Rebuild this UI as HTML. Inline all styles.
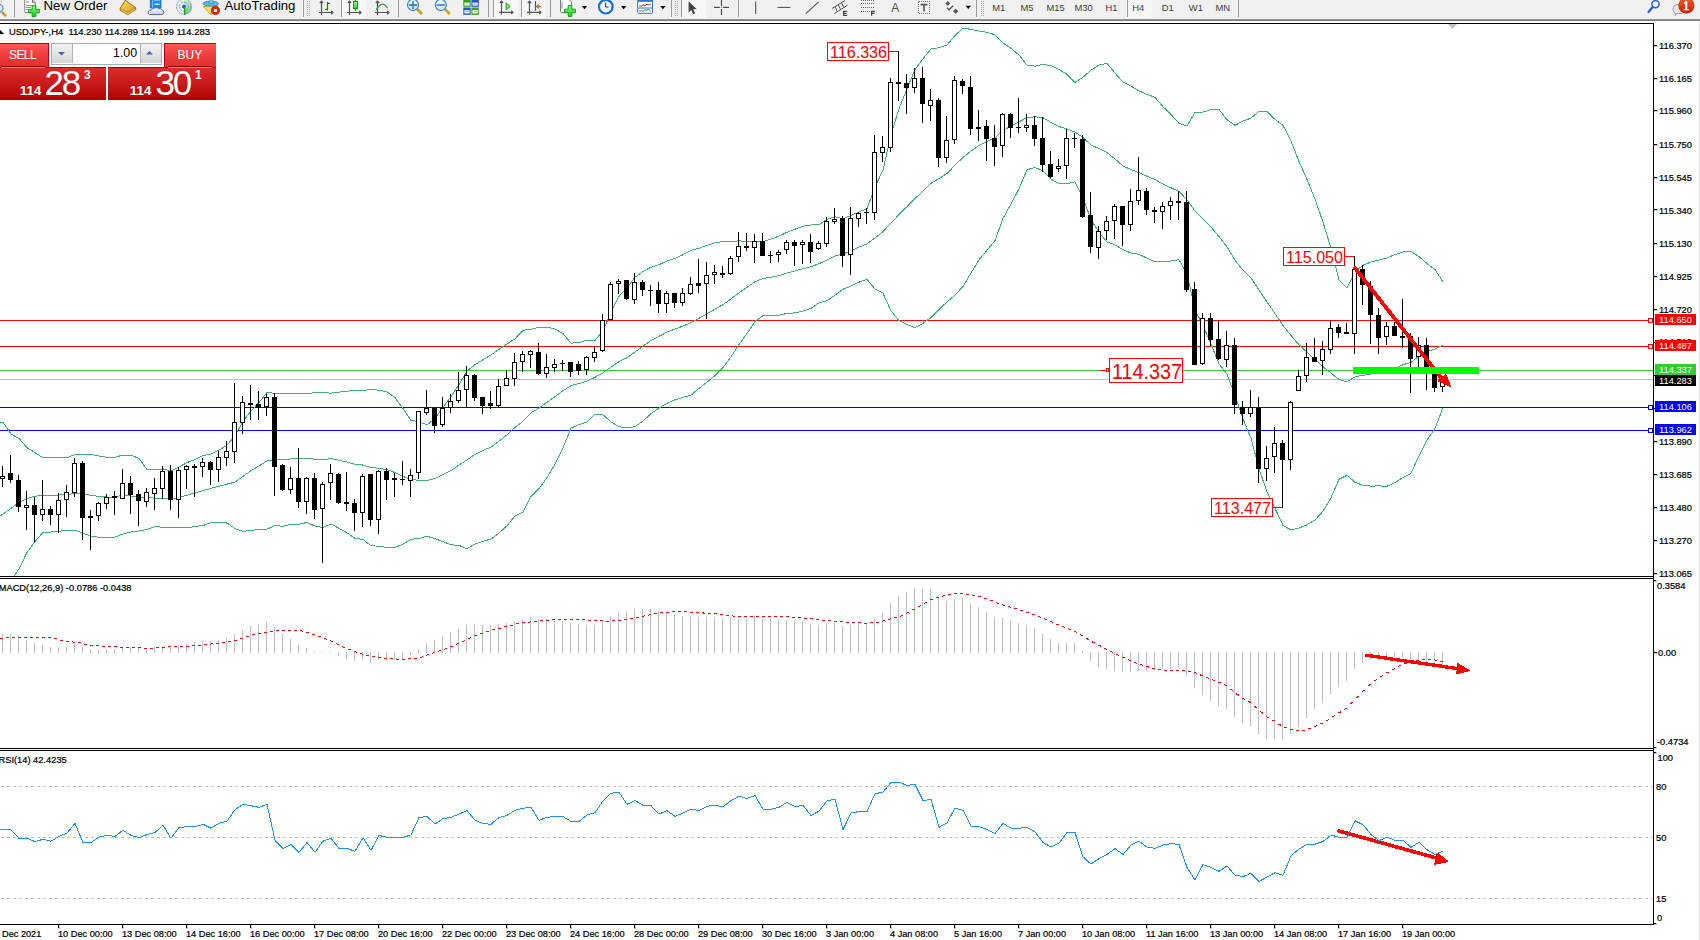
<!DOCTYPE html>
<html><head><meta charset="utf-8"><title>USDJPY H4</title>
<style>
html,body{margin:0;padding:0;width:1700px;height:940px;overflow:hidden;background:#fff;font-family:"Liberation Sans",sans-serif;}
#ch{position:absolute;left:0;top:0;}
#tb{position:absolute;left:0;top:0;width:1700px;height:19px;background:#f0f0f0;overflow:hidden;}
#tbl{position:absolute;left:0;top:19px;width:1700px;height:2px;background:linear-gradient(#a0a0a0,#6e6e6e);}
.tt{position:absolute;top:-2px;font-size:12.6px;color:#000;white-space:nowrap;letter-spacing:0.1px;}
.sep{position:absolute;top:0;width:1px;height:17px;background:#a8a8a8;}
.grip{position:absolute;top:1px;width:3px;height:15px;background:repeating-linear-gradient(#b0b0b0 0 1px,transparent 1px 2px);}
.per{position:absolute;top:2px;font-size:10px;color:#333;}
.sel{position:absolute;top:0;height:18px;background:#fafafa;}
#oc{position:absolute;left:0;top:43px;}
.oc-top{position:absolute;height:24px;background:linear-gradient(#ff5858,#ec3a3a 55%,#e23030);box-sizing:border-box;border-top:1px solid #b80000;}
.oc-bot{position:absolute;top:24px;height:33px;background:linear-gradient(#dc2c2c,#c81a1a 50%,#b00000);box-sizing:border-box;border-top:1px solid #b80000;}
.oc-lbl{position:absolute;top:5px;color:#fff;font-size:12px;letter-spacing:-0.6px;}
.oc-ln{position:absolute;top:23px;height:1px;background:#8c0000;}
.big{position:absolute;color:#fff;}
</style></head>
<body>
<svg id="ch" width="1700" height="940" viewBox="0 0 1700 940">
<defs><clipPath id="cm"><rect x="0" y="24" width="1653" height="552"/></clipPath><clipPath id="cd"><rect x="0" y="579" width="1653" height="169"/></clipPath><clipPath id="cr"><rect x="0" y="751" width="1653" height="173"/></clipPath></defs>
<rect x="0" y="20" width="1700" height="920" fill="#fff"/>
<rect x="1699" y="20" width="1" height="920" fill="#e3e3e3"/>
<g clip-path="url(#cm)">
<g shape-rendering="crispEdges">
<rect x="0" y="320" width="1648" height="1" fill="#ff0000"/>
<rect x="0" y="346" width="1648" height="1" fill="#ff0000"/>
<rect x="0" y="370" width="1653" height="1" fill="#32cd32"/>
<rect x="0" y="379" width="1653" height="1" fill="#c0c0c0"/>
<rect x="0" y="407" width="1648" height="1" fill="#0000ff"/>
<rect x="0" y="430" width="1648" height="1" fill="#0000ff"/>
<rect x="1648.5" y="318.5" width="4" height="4" fill="#fff" stroke="#ff0000" stroke-width="1"/>
<rect x="1648.5" y="344.5" width="4" height="4" fill="#fff" stroke="#ff0000" stroke-width="1"/>
<rect x="1648.5" y="405.5" width="4" height="4" fill="#fff" stroke="#0000ff" stroke-width="1"/>
<rect x="1648.5" y="428.5" width="4" height="4" fill="#fff" stroke="#0000ff" stroke-width="1"/>
</g>
<g fill="none" stroke="#3cb371" stroke-width="1" shape-rendering="crispEdges">
<polyline points="-5.0,423.50 3.0,422.30 11.0,434.00 19.0,438.50 27.0,447.60 35.0,452.60 43.0,457.70 51.0,457.70 59.0,457.70 67.0,457.70 75.0,454.60 83.0,454.40 91.0,454.40 99.0,456.00 107.0,457.30 115.0,457.30 123.0,455.00 131.0,455.00 139.0,458.50 147.0,469.50 155.0,469.97 163.0,468.87 171.0,471.04 179.0,466.98 187.0,462.58 195.0,459.60 203.0,455.58 211.0,454.16 219.0,450.08 227.0,445.24 235.0,435.62 243.0,421.36 251.0,411.08 259.0,402.42 267.0,392.66 275.0,393.25 283.0,393.02 291.0,393.58 299.0,393.50 307.0,393.98 315.0,392.39 323.0,392.32 331.0,393.21 339.0,392.11 347.0,391.36 355.0,390.18 363.0,390.73 371.0,389.43 379.0,390.22 387.0,391.85 395.0,397.63 403.0,408.63 411.0,420.42 419.0,421.54 427.0,425.03 435.0,418.44 443.0,407.27 451.0,396.42 459.0,384.71 467.0,371.02 475.0,364.75 483.0,359.61 491.0,354.95 499.0,349.26 507.0,343.97 515.0,338.79 523.0,330.34 531.0,329.24 539.0,327.34 547.0,327.15 555.0,328.84 563.0,333.64 571.0,343.15 579.0,342.50 587.0,340.15 595.0,340.36 603.0,331.04 611.0,312.21 619.0,296.36 627.0,287.58 635.0,277.26 643.0,271.35 651.0,267.28 659.0,264.67 667.0,260.95 675.0,258.37 683.0,254.77 691.0,250.29 699.0,248.28 707.0,245.23 715.0,242.62 723.0,241.67 731.0,241.15 739.0,240.95 747.0,241.24 755.0,242.08 763.0,241.53 771.0,238.98 779.0,236.07 787.0,232.36 795.0,229.19 803.0,226.13 811.0,225.02 819.0,224.61 827.0,219.48 835.0,216.75 843.0,218.93 851.0,215.40 859.0,212.01 867.0,208.57 875.0,186.96 883.0,170.08 891.0,134.81 899.0,108.81 907.0,88.87 915.0,69.58 923.0,58.72 931.0,48.95 939.0,47.67 947.0,45.06 955.0,35.30 963.0,28.26 971.0,29.34 979.0,31.03 987.0,32.37 995.0,34.77 1003.0,42.93 1011.0,48.26 1019.0,54.96 1027.0,65.27 1035.0,66.13 1043.0,64.39 1051.0,65.57 1059.0,69.40 1067.0,74.36 1075.0,82.30 1083.0,77.20 1091.0,70.25 1099.0,64.99 1107.0,63.32 1115.0,73.07 1123.0,82.16 1131.0,86.16 1139.0,90.89 1147.0,94.36 1155.0,97.31 1163.0,106.74 1171.0,114.56 1179.0,123.39 1187.0,125.80 1195.0,112.53 1203.0,112.10 1211.0,109.74 1219.0,109.41 1227.0,119.68 1235.0,125.32 1243.0,121.06 1251.0,118.06 1259.0,111.23 1267.0,111.69 1275.0,119.26 1283.0,125.40 1291.0,141.18 1299.0,161.56 1307.0,179.45 1315.0,199.14 1323.0,222.15 1331.0,248.34 1339.0,279.87 1347.0,288.21 1355.0,271.43 1363.0,265.25 1371.0,261.98 1379.0,260.05 1387.0,257.94 1395.0,254.54 1403.0,252.04 1411.0,251.33 1419.0,256.53 1427.0,263.57 1435.0,269.51 1443.0,282.01"/>
<polyline points="-5.0,519.50 3.0,514.00 11.0,508.50 19.0,502.50 27.0,498.50 35.0,496.30 43.0,495.00 51.0,495.00 59.0,495.00 67.0,494.50 75.0,493.60 83.0,493.60 91.0,495.50 99.0,496.30 107.0,497.00 115.0,497.00 123.0,495.00 131.0,496.00 139.0,497.00 147.0,497.00 155.0,498.31 163.0,498.06 171.0,499.06 179.0,497.25 187.0,495.30 195.0,492.97 203.0,490.59 211.0,488.34 219.0,486.19 227.0,484.15 235.0,482.11 243.0,476.35 251.0,470.72 259.0,465.94 267.0,460.93 275.0,459.34 283.0,459.69 291.0,458.87 299.0,458.92 307.0,458.20 315.0,459.27 323.0,459.91 331.0,458.58 339.0,460.21 347.0,462.07 355.0,464.31 363.0,465.05 371.0,467.56 379.0,468.23 387.0,469.65 395.0,472.52 403.0,476.39 411.0,479.88 419.0,480.07 427.0,480.62 435.0,478.58 443.0,474.46 451.0,470.61 459.0,465.03 467.0,459.90 475.0,454.32 483.0,450.41 491.0,447.03 499.0,441.14 507.0,434.89 515.0,427.38 523.0,421.26 531.0,412.83 539.0,407.98 547.0,402.35 555.0,396.57 563.0,390.76 571.0,385.62 579.0,383.59 587.0,381.05 595.0,377.31 603.0,372.91 611.0,367.05 619.0,361.56 627.0,357.74 635.0,351.96 643.0,346.20 651.0,340.44 659.0,336.34 667.0,332.09 675.0,329.10 683.0,326.06 691.0,322.72 699.0,318.30 707.0,313.71 715.0,309.10 723.0,304.66 731.0,299.00 739.0,292.76 747.0,287.29 755.0,281.77 763.0,278.57 771.0,277.15 779.0,275.71 787.0,272.87 795.0,271.04 803.0,268.63 811.0,266.72 819.0,263.72 827.0,260.10 835.0,255.94 843.0,254.05 851.0,250.74 859.0,247.10 867.0,243.97 875.0,237.98 883.0,231.62 891.0,222.82 899.0,214.69 907.0,206.73 915.0,198.60 923.0,191.04 931.0,183.28 939.0,178.58 947.0,173.47 955.0,165.21 963.0,157.38 971.0,151.19 979.0,145.46 987.0,141.34 995.0,137.71 1003.0,130.64 1011.0,126.10 1019.0,121.86 1027.0,117.49 1035.0,116.80 1043.0,117.66 1051.0,122.39 1059.0,126.52 1067.0,129.00 1075.0,132.01 1083.0,137.62 1091.0,144.95 1099.0,148.63 1107.0,152.67 1115.0,158.96 1123.0,165.94 1131.0,169.57 1139.0,172.66 1147.0,176.25 1155.0,179.54 1163.0,184.14 1171.0,187.81 1179.0,191.56 1187.0,199.79 1195.0,211.11 1203.0,218.81 1211.0,226.94 1219.0,236.59 1227.0,246.91 1235.0,260.25 1243.0,270.13 1251.0,278.11 1259.0,290.01 1267.0,301.88 1275.0,313.74 1283.0,325.45 1291.0,335.50 1299.0,344.78 1307.0,352.11 1315.0,359.56 1323.0,366.68 1331.0,373.05 1339.0,379.54 1347.0,381.72 1355.0,376.91 1363.0,375.25 1371.0,374.03 1379.0,372.99 1387.0,372.07 1395.0,368.58 1403.0,364.75 1411.0,362.36 1419.0,356.17 1427.0,351.74 1435.0,348.95 1443.0,344.92"/>
<polyline points="-5.0,640.50 3.0,601.00 11.0,581.00 19.0,568.80 27.0,552.60 35.0,541.50 43.0,532.40 51.0,532.00 59.0,531.40 67.0,530.00 75.0,530.40 83.0,533.00 91.0,536.40 99.0,537.20 107.0,537.50 115.0,537.00 123.0,534.00 131.0,532.00 139.0,531.00 147.0,529.50 155.0,526.66 163.0,527.25 171.0,527.09 179.0,527.52 187.0,528.03 195.0,526.34 203.0,525.60 211.0,522.51 219.0,522.31 227.0,523.06 235.0,528.61 243.0,531.34 251.0,530.36 259.0,529.45 267.0,529.19 275.0,525.44 283.0,526.35 291.0,524.16 299.0,524.34 307.0,522.43 315.0,526.15 323.0,527.49 331.0,523.95 339.0,528.32 347.0,532.79 355.0,538.44 363.0,539.37 371.0,545.69 379.0,546.25 387.0,547.46 395.0,547.41 403.0,544.15 411.0,539.33 419.0,538.60 427.0,536.20 435.0,538.73 443.0,541.65 451.0,544.80 459.0,545.36 467.0,548.79 475.0,543.89 483.0,541.20 491.0,539.10 499.0,533.02 507.0,525.80 515.0,515.96 523.0,512.18 531.0,496.42 539.0,488.62 547.0,477.55 555.0,464.31 563.0,447.88 571.0,428.08 579.0,424.69 587.0,421.94 595.0,414.26 603.0,414.78 611.0,421.88 619.0,426.76 627.0,427.90 635.0,426.65 643.0,421.04 651.0,413.61 659.0,408.02 667.0,403.23 675.0,399.82 683.0,397.35 691.0,395.15 699.0,388.32 707.0,382.19 715.0,375.59 723.0,367.66 731.0,356.85 739.0,344.58 747.0,333.35 755.0,321.47 763.0,315.62 771.0,315.33 779.0,315.34 787.0,313.39 795.0,312.89 803.0,311.14 811.0,308.43 819.0,302.83 827.0,300.73 835.0,295.13 843.0,289.18 851.0,286.09 859.0,282.19 867.0,279.38 875.0,289.01 883.0,293.16 891.0,310.84 899.0,320.58 907.0,324.60 915.0,327.62 923.0,323.37 931.0,317.61 939.0,309.48 947.0,301.88 955.0,295.12 963.0,286.49 971.0,273.04 979.0,259.89 987.0,250.31 995.0,240.64 1003.0,218.35 1011.0,203.95 1019.0,188.76 1027.0,169.70 1035.0,167.46 1043.0,170.92 1051.0,179.21 1059.0,183.64 1067.0,183.65 1075.0,181.72 1083.0,198.04 1091.0,219.65 1099.0,232.28 1107.0,242.03 1115.0,244.85 1123.0,249.73 1131.0,252.99 1139.0,254.42 1147.0,258.13 1155.0,261.77 1163.0,261.53 1171.0,261.05 1179.0,259.72 1187.0,273.78 1195.0,309.69 1203.0,325.51 1211.0,344.13 1219.0,363.77 1227.0,374.14 1235.0,395.18 1243.0,419.20 1251.0,438.16 1259.0,468.79 1267.0,492.07 1275.0,508.22 1283.0,525.51 1291.0,529.82 1299.0,528.01 1307.0,524.77 1315.0,519.99 1323.0,511.21 1331.0,497.75 1339.0,479.21 1347.0,475.23 1355.0,482.39 1363.0,485.26 1371.0,486.09 1379.0,485.93 1387.0,486.20 1395.0,482.63 1403.0,477.47 1411.0,473.40 1419.0,455.80 1427.0,439.91 1435.0,428.39 1443.0,407.82"/>
</g>
<g shape-rendering="crispEdges">
<rect x="2" y="466" width="1" height="21"/>
<rect x="0" y="476" width="5" height="3"/>
<rect x="1" y="477" width="3" height="1" fill="#fff"/>
<rect x="10" y="455" width="1" height="28"/>
<rect x="8" y="473" width="5" height="7"/>
<rect x="18" y="475" width="1" height="37"/>
<rect x="16" y="480" width="5" height="27"/>
<rect x="26" y="491" width="1" height="39"/>
<rect x="24" y="505" width="5" height="3"/>
<rect x="25" y="506" width="3" height="1" fill="#fff"/>
<rect x="34" y="497" width="1" height="45"/>
<rect x="32" y="505" width="5" height="10"/>
<rect x="42" y="480" width="1" height="41"/>
<rect x="40" y="509" width="5" height="6"/>
<rect x="41" y="510" width="3" height="4" fill="#fff"/>
<rect x="50" y="506" width="1" height="19"/>
<rect x="48" y="509" width="5" height="6"/>
<rect x="58" y="493" width="1" height="40"/>
<rect x="56" y="500" width="5" height="15"/>
<rect x="57" y="501" width="3" height="13" fill="#fff"/>
<rect x="66" y="485" width="1" height="32"/>
<rect x="64" y="492" width="5" height="8"/>
<rect x="65" y="493" width="3" height="6" fill="#fff"/>
<rect x="74" y="458" width="1" height="39"/>
<rect x="72" y="463" width="5" height="30"/>
<rect x="73" y="464" width="3" height="28" fill="#fff"/>
<rect x="82" y="461" width="1" height="79"/>
<rect x="80" y="463" width="5" height="55"/>
<rect x="90" y="510" width="1" height="40"/>
<rect x="88" y="516" width="5" height="2"/>
<rect x="98" y="502" width="1" height="19"/>
<rect x="96" y="503" width="5" height="13"/>
<rect x="97" y="504" width="3" height="11" fill="#fff"/>
<rect x="106" y="494" width="1" height="15"/>
<rect x="104" y="497" width="5" height="7"/>
<rect x="105" y="498" width="3" height="5" fill="#fff"/>
<rect x="114" y="491" width="1" height="24"/>
<rect x="112" y="496" width="5" height="2"/>
<rect x="122" y="469" width="1" height="30"/>
<rect x="120" y="483" width="5" height="16"/>
<rect x="121" y="484" width="3" height="14" fill="#fff"/>
<rect x="130" y="476" width="1" height="38"/>
<rect x="128" y="483" width="5" height="12"/>
<rect x="138" y="490" width="1" height="36"/>
<rect x="136" y="494" width="5" height="7"/>
<rect x="146" y="488" width="1" height="19"/>
<rect x="144" y="492" width="5" height="10"/>
<rect x="145" y="493" width="3" height="8" fill="#fff"/>
<rect x="154" y="478" width="1" height="32"/>
<rect x="152" y="488" width="5" height="6"/>
<rect x="153" y="489" width="3" height="4" fill="#fff"/>
<rect x="162" y="466" width="1" height="33"/>
<rect x="160" y="471" width="5" height="18"/>
<rect x="161" y="472" width="3" height="16" fill="#fff"/>
<rect x="170" y="465" width="1" height="45"/>
<rect x="168" y="471" width="5" height="29"/>
<rect x="178" y="467" width="1" height="51"/>
<rect x="176" y="470" width="5" height="30"/>
<rect x="177" y="471" width="3" height="28" fill="#fff"/>
<rect x="186" y="465" width="1" height="24"/>
<rect x="184" y="466" width="5" height="4"/>
<rect x="185" y="467" width="3" height="2" fill="#fff"/>
<rect x="194" y="464" width="1" height="33"/>
<rect x="192" y="466" width="5" height="2"/>
<rect x="202" y="458" width="1" height="19"/>
<rect x="200" y="462" width="5" height="5"/>
<rect x="201" y="463" width="3" height="3" fill="#fff"/>
<rect x="210" y="461" width="1" height="24"/>
<rect x="208" y="462" width="5" height="8"/>
<rect x="218" y="451" width="1" height="31"/>
<rect x="216" y="457" width="5" height="13"/>
<rect x="217" y="458" width="3" height="11" fill="#fff"/>
<rect x="226" y="441" width="1" height="25"/>
<rect x="224" y="451" width="5" height="7"/>
<rect x="225" y="452" width="3" height="5" fill="#fff"/>
<rect x="234" y="383" width="1" height="80"/>
<rect x="232" y="422" width="5" height="30"/>
<rect x="233" y="423" width="3" height="28" fill="#fff"/>
<rect x="242" y="396" width="1" height="38"/>
<rect x="240" y="402" width="5" height="21"/>
<rect x="241" y="403" width="3" height="19" fill="#fff"/>
<rect x="250" y="385" width="1" height="35"/>
<rect x="248" y="403" width="5" height="2"/>
<rect x="258" y="391" width="1" height="29"/>
<rect x="256" y="404" width="5" height="4"/>
<rect x="266" y="394" width="1" height="22"/>
<rect x="264" y="397" width="5" height="10"/>
<rect x="265" y="398" width="3" height="8" fill="#fff"/>
<rect x="274" y="393" width="1" height="103"/>
<rect x="272" y="397" width="5" height="70"/>
<rect x="282" y="464" width="1" height="27"/>
<rect x="280" y="465" width="5" height="25"/>
<rect x="290" y="467" width="1" height="27"/>
<rect x="288" y="478" width="5" height="12"/>
<rect x="289" y="479" width="3" height="10" fill="#fff"/>
<rect x="298" y="448" width="1" height="60"/>
<rect x="296" y="478" width="5" height="24"/>
<rect x="306" y="477" width="1" height="37"/>
<rect x="304" y="478" width="5" height="24"/>
<rect x="305" y="479" width="3" height="22" fill="#fff"/>
<rect x="314" y="473" width="1" height="46"/>
<rect x="312" y="478" width="5" height="32"/>
<rect x="322" y="482" width="1" height="81"/>
<rect x="320" y="484" width="5" height="25"/>
<rect x="321" y="485" width="3" height="23" fill="#fff"/>
<rect x="330" y="464" width="1" height="36"/>
<rect x="328" y="473" width="5" height="10"/>
<rect x="329" y="474" width="3" height="8" fill="#fff"/>
<rect x="338" y="473" width="1" height="31"/>
<rect x="336" y="474" width="5" height="29"/>
<rect x="346" y="472" width="1" height="39"/>
<rect x="344" y="502" width="5" height="2"/>
<rect x="354" y="499" width="1" height="32"/>
<rect x="352" y="503" width="5" height="10"/>
<rect x="362" y="474" width="1" height="53"/>
<rect x="360" y="476" width="5" height="37"/>
<rect x="361" y="477" width="3" height="35" fill="#fff"/>
<rect x="370" y="474" width="1" height="52"/>
<rect x="368" y="474" width="5" height="46"/>
<rect x="378" y="470" width="1" height="64"/>
<rect x="376" y="471" width="5" height="49"/>
<rect x="377" y="472" width="3" height="47" fill="#fff"/>
<rect x="386" y="468" width="1" height="32"/>
<rect x="384" y="471" width="5" height="9"/>
<rect x="394" y="473" width="1" height="24"/>
<rect x="392" y="478" width="5" height="2"/>
<rect x="402" y="461" width="1" height="24"/>
<rect x="400" y="479" width="5" height="1"/>
<rect x="410" y="469" width="1" height="28"/>
<rect x="408" y="475" width="5" height="6"/>
<rect x="409" y="476" width="3" height="4" fill="#fff"/>
<rect x="418" y="411" width="1" height="68"/>
<rect x="416" y="411" width="5" height="62"/>
<rect x="417" y="412" width="3" height="60" fill="#fff"/>
<rect x="426" y="390" width="1" height="25"/>
<rect x="424" y="408" width="5" height="5"/>
<rect x="425" y="409" width="3" height="3" fill="#fff"/>
<rect x="434" y="408" width="1" height="25"/>
<rect x="432" y="408" width="5" height="18"/>
<rect x="442" y="397" width="1" height="30"/>
<rect x="440" y="408" width="5" height="17"/>
<rect x="441" y="409" width="3" height="15" fill="#fff"/>
<rect x="450" y="394" width="1" height="19"/>
<rect x="448" y="401" width="5" height="7"/>
<rect x="449" y="402" width="3" height="5" fill="#fff"/>
<rect x="458" y="372" width="1" height="31"/>
<rect x="456" y="390" width="5" height="11"/>
<rect x="457" y="391" width="3" height="9" fill="#fff"/>
<rect x="466" y="366" width="1" height="41"/>
<rect x="464" y="375" width="5" height="15"/>
<rect x="465" y="376" width="3" height="13" fill="#fff"/>
<rect x="474" y="374" width="1" height="27"/>
<rect x="472" y="375" width="5" height="23"/>
<rect x="482" y="397" width="1" height="17"/>
<rect x="480" y="397" width="5" height="9"/>
<rect x="490" y="391" width="1" height="18"/>
<rect x="488" y="403" width="5" height="3"/>
<rect x="498" y="379" width="1" height="29"/>
<rect x="496" y="386" width="5" height="20"/>
<rect x="497" y="387" width="3" height="18" fill="#fff"/>
<rect x="506" y="371" width="1" height="15"/>
<rect x="504" y="378" width="5" height="8"/>
<rect x="505" y="379" width="3" height="6" fill="#fff"/>
<rect x="514" y="353" width="1" height="33"/>
<rect x="512" y="362" width="5" height="17"/>
<rect x="513" y="363" width="3" height="15" fill="#fff"/>
<rect x="522" y="351" width="1" height="21"/>
<rect x="520" y="354" width="5" height="8"/>
<rect x="521" y="355" width="3" height="6" fill="#fff"/>
<rect x="530" y="350" width="1" height="18"/>
<rect x="528" y="351" width="5" height="4"/>
<rect x="529" y="352" width="3" height="2" fill="#fff"/>
<rect x="538" y="343" width="1" height="32"/>
<rect x="536" y="352" width="5" height="22"/>
<rect x="546" y="354" width="1" height="24"/>
<rect x="544" y="367" width="5" height="7"/>
<rect x="545" y="368" width="3" height="5" fill="#fff"/>
<rect x="554" y="359" width="1" height="13"/>
<rect x="552" y="364" width="5" height="4"/>
<rect x="553" y="365" width="3" height="2" fill="#fff"/>
<rect x="562" y="360" width="1" height="11"/>
<rect x="560" y="363" width="5" height="1"/>
<rect x="570" y="362" width="1" height="15"/>
<rect x="568" y="362" width="5" height="10"/>
<rect x="578" y="361" width="1" height="14"/>
<rect x="576" y="364" width="5" height="7"/>
<rect x="586" y="356" width="1" height="19"/>
<rect x="584" y="357" width="5" height="13"/>
<rect x="585" y="358" width="3" height="11" fill="#fff"/>
<rect x="594" y="347" width="1" height="15"/>
<rect x="592" y="352" width="5" height="6"/>
<rect x="593" y="353" width="3" height="4" fill="#fff"/>
<rect x="602" y="314" width="1" height="38"/>
<rect x="600" y="320" width="5" height="31"/>
<rect x="601" y="321" width="3" height="29" fill="#fff"/>
<rect x="610" y="282" width="1" height="38"/>
<rect x="608" y="284" width="5" height="36"/>
<rect x="609" y="285" width="3" height="34" fill="#fff"/>
<rect x="618" y="279" width="1" height="15"/>
<rect x="616" y="281" width="5" height="3"/>
<rect x="617" y="282" width="3" height="1" fill="#fff"/>
<rect x="626" y="280" width="1" height="20"/>
<rect x="624" y="280" width="5" height="19"/>
<rect x="634" y="273" width="1" height="31"/>
<rect x="632" y="282" width="5" height="18"/>
<rect x="633" y="283" width="3" height="16" fill="#fff"/>
<rect x="642" y="280" width="1" height="16"/>
<rect x="640" y="282" width="5" height="8"/>
<rect x="650" y="285" width="1" height="21"/>
<rect x="648" y="290" width="5" height="1"/>
<rect x="658" y="282" width="1" height="31"/>
<rect x="656" y="290" width="5" height="14"/>
<rect x="666" y="291" width="1" height="22"/>
<rect x="664" y="293" width="5" height="11"/>
<rect x="665" y="294" width="3" height="9" fill="#fff"/>
<rect x="674" y="293" width="1" height="15"/>
<rect x="672" y="293" width="5" height="10"/>
<rect x="682" y="288" width="1" height="18"/>
<rect x="680" y="293" width="5" height="10"/>
<rect x="681" y="294" width="3" height="8" fill="#fff"/>
<rect x="690" y="277" width="1" height="18"/>
<rect x="688" y="284" width="5" height="10"/>
<rect x="689" y="285" width="3" height="8" fill="#fff"/>
<rect x="698" y="259" width="1" height="34"/>
<rect x="696" y="283" width="5" height="3"/>
<rect x="706" y="262" width="1" height="57"/>
<rect x="704" y="275" width="5" height="9"/>
<rect x="705" y="276" width="3" height="7" fill="#fff"/>
<rect x="714" y="265" width="1" height="19"/>
<rect x="712" y="272" width="5" height="3"/>
<rect x="713" y="273" width="3" height="1" fill="#fff"/>
<rect x="722" y="266" width="1" height="12"/>
<rect x="720" y="273" width="5" height="2"/>
<rect x="730" y="256" width="1" height="19"/>
<rect x="728" y="258" width="5" height="16"/>
<rect x="729" y="259" width="3" height="14" fill="#fff"/>
<rect x="738" y="232" width="1" height="30"/>
<rect x="736" y="246" width="5" height="11"/>
<rect x="737" y="247" width="3" height="9" fill="#fff"/>
<rect x="746" y="233" width="1" height="18"/>
<rect x="744" y="246" width="5" height="2"/>
<rect x="754" y="234" width="1" height="29"/>
<rect x="752" y="241" width="5" height="7"/>
<rect x="753" y="242" width="3" height="5" fill="#fff"/>
<rect x="762" y="233" width="1" height="23"/>
<rect x="760" y="241" width="5" height="15"/>
<rect x="770" y="251" width="1" height="12"/>
<rect x="768" y="255" width="5" height="1"/>
<rect x="778" y="250" width="1" height="12"/>
<rect x="776" y="252" width="5" height="3"/>
<rect x="777" y="253" width="3" height="1" fill="#fff"/>
<rect x="786" y="240" width="1" height="14"/>
<rect x="784" y="242" width="5" height="8"/>
<rect x="785" y="243" width="3" height="6" fill="#fff"/>
<rect x="794" y="240" width="1" height="26"/>
<rect x="792" y="242" width="5" height="4"/>
<rect x="802" y="240" width="1" height="24"/>
<rect x="800" y="242" width="5" height="3"/>
<rect x="801" y="243" width="3" height="1" fill="#fff"/>
<rect x="810" y="234" width="1" height="29"/>
<rect x="808" y="242" width="5" height="10"/>
<rect x="818" y="241" width="1" height="9"/>
<rect x="816" y="243" width="5" height="6"/>
<rect x="817" y="244" width="3" height="4" fill="#fff"/>
<rect x="826" y="217" width="1" height="30"/>
<rect x="824" y="221" width="5" height="23"/>
<rect x="825" y="222" width="3" height="21" fill="#fff"/>
<rect x="834" y="208" width="1" height="16"/>
<rect x="832" y="219" width="5" height="3"/>
<rect x="833" y="220" width="3" height="1" fill="#fff"/>
<rect x="842" y="216" width="1" height="51"/>
<rect x="840" y="218" width="5" height="38"/>
<rect x="850" y="207" width="1" height="68"/>
<rect x="848" y="218" width="5" height="37"/>
<rect x="849" y="219" width="3" height="35" fill="#fff"/>
<rect x="858" y="212" width="1" height="15"/>
<rect x="856" y="213" width="5" height="6"/>
<rect x="857" y="214" width="3" height="4" fill="#fff"/>
<rect x="866" y="208" width="1" height="16"/>
<rect x="864" y="212" width="5" height="1"/>
<rect x="874" y="135" width="1" height="85"/>
<rect x="872" y="152" width="5" height="61"/>
<rect x="873" y="153" width="3" height="59" fill="#fff"/>
<rect x="882" y="136" width="1" height="26"/>
<rect x="880" y="147" width="5" height="6"/>
<rect x="881" y="148" width="3" height="4" fill="#fff"/>
<rect x="890" y="78" width="1" height="74"/>
<rect x="888" y="82" width="5" height="66"/>
<rect x="889" y="83" width="3" height="64" fill="#fff"/>
<rect x="898" y="51" width="1" height="50"/>
<rect x="896" y="82" width="5" height="2"/>
<rect x="906" y="74" width="1" height="40"/>
<rect x="904" y="83" width="5" height="5"/>
<rect x="914" y="68" width="1" height="25"/>
<rect x="912" y="78" width="5" height="10"/>
<rect x="913" y="79" width="3" height="8" fill="#fff"/>
<rect x="922" y="67" width="1" height="56"/>
<rect x="920" y="78" width="5" height="26"/>
<rect x="930" y="89" width="1" height="32"/>
<rect x="928" y="100" width="5" height="6"/>
<rect x="929" y="101" width="3" height="4" fill="#fff"/>
<rect x="938" y="98" width="1" height="69"/>
<rect x="936" y="100" width="5" height="58"/>
<rect x="946" y="116" width="1" height="47"/>
<rect x="944" y="140" width="5" height="18"/>
<rect x="945" y="141" width="3" height="16" fill="#fff"/>
<rect x="954" y="76" width="1" height="68"/>
<rect x="952" y="80" width="5" height="60"/>
<rect x="953" y="81" width="3" height="58" fill="#fff"/>
<rect x="962" y="79" width="1" height="15"/>
<rect x="960" y="81" width="5" height="5"/>
<rect x="970" y="76" width="1" height="59"/>
<rect x="968" y="87" width="5" height="42"/>
<rect x="978" y="110" width="1" height="31"/>
<rect x="976" y="127" width="5" height="2"/>
<rect x="986" y="120" width="1" height="41"/>
<rect x="984" y="126" width="5" height="13"/>
<rect x="994" y="125" width="1" height="41"/>
<rect x="992" y="138" width="5" height="9"/>
<rect x="1002" y="113" width="1" height="44"/>
<rect x="1000" y="114" width="5" height="32"/>
<rect x="1001" y="115" width="3" height="30" fill="#fff"/>
<rect x="1010" y="113" width="1" height="25"/>
<rect x="1008" y="114" width="5" height="14"/>
<rect x="1018" y="98" width="1" height="35"/>
<rect x="1016" y="127" width="5" height="1"/>
<rect x="1026" y="114" width="1" height="18"/>
<rect x="1024" y="125" width="5" height="3"/>
<rect x="1025" y="126" width="3" height="1" fill="#fff"/>
<rect x="1034" y="116" width="1" height="30"/>
<rect x="1032" y="125" width="5" height="14"/>
<rect x="1042" y="117" width="1" height="55"/>
<rect x="1040" y="138" width="5" height="27"/>
<rect x="1050" y="151" width="1" height="27"/>
<rect x="1048" y="164" width="5" height="13"/>
<rect x="1058" y="159" width="1" height="13"/>
<rect x="1056" y="166" width="5" height="3"/>
<rect x="1057" y="167" width="3" height="1" fill="#fff"/>
<rect x="1066" y="129" width="1" height="50"/>
<rect x="1064" y="138" width="5" height="28"/>
<rect x="1065" y="139" width="3" height="26" fill="#fff"/>
<rect x="1074" y="133" width="1" height="15"/>
<rect x="1072" y="138" width="5" height="1"/>
<rect x="1082" y="135" width="1" height="83"/>
<rect x="1080" y="139" width="5" height="78"/>
<rect x="1090" y="192" width="1" height="61"/>
<rect x="1088" y="215" width="5" height="32"/>
<rect x="1098" y="226" width="1" height="33"/>
<rect x="1096" y="231" width="5" height="17"/>
<rect x="1097" y="232" width="3" height="15" fill="#fff"/>
<rect x="1106" y="216" width="1" height="24"/>
<rect x="1104" y="221" width="5" height="10"/>
<rect x="1105" y="222" width="3" height="8" fill="#fff"/>
<rect x="1114" y="204" width="1" height="35"/>
<rect x="1112" y="206" width="5" height="15"/>
<rect x="1113" y="207" width="3" height="13" fill="#fff"/>
<rect x="1122" y="206" width="1" height="40"/>
<rect x="1120" y="206" width="5" height="19"/>
<rect x="1130" y="189" width="1" height="42"/>
<rect x="1128" y="201" width="5" height="24"/>
<rect x="1129" y="202" width="3" height="22" fill="#fff"/>
<rect x="1138" y="157" width="1" height="48"/>
<rect x="1136" y="190" width="5" height="11"/>
<rect x="1137" y="191" width="3" height="9" fill="#fff"/>
<rect x="1146" y="188" width="1" height="27"/>
<rect x="1144" y="191" width="5" height="19"/>
<rect x="1154" y="207" width="1" height="16"/>
<rect x="1152" y="210" width="5" height="2"/>
<rect x="1162" y="202" width="1" height="27"/>
<rect x="1160" y="206" width="5" height="6"/>
<rect x="1161" y="207" width="3" height="4" fill="#fff"/>
<rect x="1170" y="197" width="1" height="23"/>
<rect x="1168" y="201" width="5" height="5"/>
<rect x="1169" y="202" width="3" height="3" fill="#fff"/>
<rect x="1178" y="191" width="1" height="29"/>
<rect x="1176" y="201" width="5" height="2"/>
<rect x="1186" y="191" width="1" height="101"/>
<rect x="1184" y="202" width="5" height="88"/>
<rect x="1194" y="282" width="1" height="83"/>
<rect x="1192" y="289" width="5" height="76"/>
<rect x="1202" y="313" width="1" height="52"/>
<rect x="1200" y="318" width="5" height="46"/>
<rect x="1201" y="319" width="3" height="44" fill="#fff"/>
<rect x="1210" y="313" width="1" height="33"/>
<rect x="1208" y="318" width="5" height="22"/>
<rect x="1218" y="321" width="1" height="39"/>
<rect x="1216" y="339" width="5" height="20"/>
<rect x="1226" y="331" width="1" height="36"/>
<rect x="1224" y="345" width="5" height="15"/>
<rect x="1225" y="346" width="3" height="13" fill="#fff"/>
<rect x="1234" y="338" width="1" height="76"/>
<rect x="1232" y="345" width="5" height="60"/>
<rect x="1242" y="401" width="1" height="24"/>
<rect x="1240" y="407" width="5" height="7"/>
<rect x="1250" y="390" width="1" height="27"/>
<rect x="1248" y="407" width="5" height="7"/>
<rect x="1249" y="408" width="3" height="5" fill="#fff"/>
<rect x="1258" y="397" width="1" height="86"/>
<rect x="1256" y="408" width="5" height="61"/>
<rect x="1266" y="446" width="1" height="35"/>
<rect x="1264" y="458" width="5" height="11"/>
<rect x="1265" y="459" width="3" height="9" fill="#fff"/>
<rect x="1274" y="427" width="1" height="46"/>
<rect x="1272" y="443" width="5" height="14"/>
<rect x="1273" y="444" width="3" height="12" fill="#fff"/>
<rect x="1282" y="440" width="1" height="68"/>
<rect x="1280" y="443" width="5" height="17"/>
<rect x="1290" y="401" width="1" height="69"/>
<rect x="1288" y="402" width="5" height="58"/>
<rect x="1289" y="403" width="3" height="56" fill="#fff"/>
<rect x="1298" y="370" width="1" height="21"/>
<rect x="1296" y="376" width="5" height="15"/>
<rect x="1297" y="377" width="3" height="13" fill="#fff"/>
<rect x="1306" y="343" width="1" height="39"/>
<rect x="1304" y="357" width="5" height="19"/>
<rect x="1305" y="358" width="3" height="17" fill="#fff"/>
<rect x="1314" y="338" width="1" height="24"/>
<rect x="1312" y="357" width="5" height="5"/>
<rect x="1322" y="341" width="1" height="34"/>
<rect x="1320" y="349" width="5" height="12"/>
<rect x="1321" y="350" width="3" height="10" fill="#fff"/>
<rect x="1330" y="321" width="1" height="33"/>
<rect x="1328" y="328" width="5" height="22"/>
<rect x="1329" y="329" width="3" height="20" fill="#fff"/>
<rect x="1338" y="324" width="1" height="14"/>
<rect x="1336" y="327" width="5" height="6"/>
<rect x="1346" y="323" width="1" height="11"/>
<rect x="1344" y="332" width="5" height="2"/>
<rect x="1354" y="256" width="1" height="98"/>
<rect x="1352" y="269" width="5" height="65"/>
<rect x="1353" y="270" width="3" height="63" fill="#fff"/>
<rect x="1362" y="265" width="1" height="40"/>
<rect x="1360" y="269" width="5" height="16"/>
<rect x="1370" y="281" width="1" height="63"/>
<rect x="1368" y="286" width="5" height="29"/>
<rect x="1378" y="308" width="1" height="46"/>
<rect x="1376" y="315" width="5" height="23"/>
<rect x="1386" y="322" width="1" height="23"/>
<rect x="1384" y="326" width="5" height="11"/>
<rect x="1385" y="327" width="3" height="9" fill="#fff"/>
<rect x="1394" y="322" width="1" height="14"/>
<rect x="1392" y="326" width="5" height="10"/>
<rect x="1402" y="299" width="1" height="49"/>
<rect x="1400" y="336" width="5" height="2"/>
<rect x="1410" y="333" width="1" height="60"/>
<rect x="1408" y="336" width="5" height="23"/>
<rect x="1418" y="337" width="1" height="30"/>
<rect x="1416" y="345" width="5" height="12"/>
<rect x="1417" y="346" width="3" height="10" fill="#fff"/>
<rect x="1426" y="338" width="1" height="52"/>
<rect x="1424" y="345" width="5" height="25"/>
<rect x="1434" y="368" width="1" height="24"/>
<rect x="1432" y="370" width="5" height="18"/>
<rect x="1442" y="378" width="1" height="14"/>
<rect x="1440" y="379" width="5" height="8"/>
<rect x="1441" y="380" width="3" height="6" fill="#fff"/>
</g>
<rect x="827.5" y="42.5" width="61" height="18" fill="#fff" stroke="#ff0000" stroke-width="1" shape-rendering="crispEdges"/>
<rect x="889" y="51" width="9" height="1" fill="#ff0000" shape-rendering="crispEdges"/>
<text x="830.0" y="57.5" font-size="16.5" fill="#ff0000" textLength="57" lengthAdjust="spacingAndGlyphs" style='font-family:"Liberation Sans",sans-serif;'>116.336</text>
<rect x="1283.5" y="247.5" width="61" height="18" fill="#fff" stroke="#ff0000" stroke-width="1" shape-rendering="crispEdges"/>
<rect x="1345" y="256" width="9" height="1" fill="#ff0000" shape-rendering="crispEdges"/>
<text x="1286.0" y="262.5" font-size="16.5" fill="#ff0000" textLength="57" lengthAdjust="spacingAndGlyphs" style='font-family:"Liberation Sans",sans-serif;'>115.050</text>
<rect x="1211.5" y="498.5" width="61" height="18" fill="#fff" stroke="#ff0000" stroke-width="1" shape-rendering="crispEdges"/>
<rect x="1273" y="507" width="9" height="1" fill="#ff0000" shape-rendering="crispEdges"/>
<text x="1214.0" y="513.5" font-size="16.5" fill="#ff0000" textLength="57" lengthAdjust="spacingAndGlyphs" style='font-family:"Liberation Sans",sans-serif;'>113.477</text>
<rect x="1099" y="370" width="8" height="1" fill="#ff0000"/>
<rect x="1106.5" y="368.5" width="2" height="3" fill="#fff" stroke="#ff0000" stroke-width="1" shape-rendering="crispEdges"/>
<rect x="1109.5" y="358.5" width="73" height="24" fill="#fff" stroke="#ff0000" stroke-width="1.2" shape-rendering="crispEdges"/>
<text x="1112" y="379" font-size="22" fill="#ff0000" textLength="70" lengthAdjust="spacingAndGlyphs" style='font-family:"Liberation Sans",sans-serif;'>114.337</text>
<g shape-rendering="crispEdges"><line x1="1355" y1="268" x2="1444" y2="381.5" stroke="#ff0000" stroke-width="3.8" stroke-linecap="round"/>
<polygon points="1438.3,380.6 1445.8,375 1450,386" fill="#ff0000" stroke="#ff0000" stroke-width="1.6" stroke-linejoin="round"/></g>
<rect x="1353" y="367" width="126" height="7" fill="#00ff00"/>
</g>
<g clip-path="url(#cd)" shape-rendering="crispEdges">
<rect x="2" y="634" width="1" height="19" fill="#c0c0c0"/>
<rect x="10" y="634" width="1" height="19" fill="#c0c0c0"/>
<rect x="18" y="636" width="1" height="17" fill="#c0c0c0"/>
<rect x="26" y="640" width="1" height="13" fill="#c0c0c0"/>
<rect x="34" y="643" width="1" height="10" fill="#c0c0c0"/>
<rect x="42" y="645" width="1" height="8" fill="#c0c0c0"/>
<rect x="50" y="647" width="1" height="6" fill="#c0c0c0"/>
<rect x="58" y="648" width="1" height="5" fill="#c0c0c0"/>
<rect x="66" y="647" width="1" height="6" fill="#c0c0c0"/>
<rect x="74" y="644" width="1" height="9" fill="#c0c0c0"/>
<rect x="82" y="647" width="1" height="6" fill="#c0c0c0"/>
<rect x="90" y="649" width="1" height="4" fill="#c0c0c0"/>
<rect x="98" y="650" width="1" height="3" fill="#c0c0c0"/>
<rect x="106" y="649" width="1" height="4" fill="#c0c0c0"/>
<rect x="114" y="649" width="1" height="4" fill="#c0c0c0"/>
<rect x="122" y="647" width="1" height="6" fill="#c0c0c0"/>
<rect x="130" y="647" width="1" height="6" fill="#c0c0c0"/>
<rect x="138" y="648" width="1" height="5" fill="#c0c0c0"/>
<rect x="146" y="648" width="1" height="5" fill="#c0c0c0"/>
<rect x="154" y="647" width="1" height="6" fill="#c0c0c0"/>
<rect x="162" y="646" width="1" height="7" fill="#c0c0c0"/>
<rect x="170" y="646" width="1" height="7" fill="#c0c0c0"/>
<rect x="178" y="645" width="1" height="8" fill="#c0c0c0"/>
<rect x="186" y="644" width="1" height="9" fill="#c0c0c0"/>
<rect x="194" y="642" width="1" height="11" fill="#c0c0c0"/>
<rect x="202" y="641" width="1" height="12" fill="#c0c0c0"/>
<rect x="210" y="641" width="1" height="12" fill="#c0c0c0"/>
<rect x="218" y="640" width="1" height="13" fill="#c0c0c0"/>
<rect x="226" y="638" width="1" height="15" fill="#c0c0c0"/>
<rect x="234" y="634" width="1" height="19" fill="#c0c0c0"/>
<rect x="242" y="630" width="1" height="23" fill="#c0c0c0"/>
<rect x="250" y="626" width="1" height="27" fill="#c0c0c0"/>
<rect x="258" y="624" width="1" height="29" fill="#c0c0c0"/>
<rect x="266" y="622" width="1" height="31" fill="#c0c0c0"/>
<rect x="274" y="627" width="1" height="26" fill="#c0c0c0"/>
<rect x="282" y="634" width="1" height="19" fill="#c0c0c0"/>
<rect x="290" y="639" width="1" height="14" fill="#c0c0c0"/>
<rect x="298" y="645" width="1" height="8" fill="#c0c0c0"/>
<rect x="306" y="648" width="1" height="5" fill="#c0c0c0"/>
<rect x="314" y="652" width="1" height="1" fill="#c0c0c0"/>
<rect x="322" y="652" width="1" height="1" fill="#c0c0c0"/>
<rect x="330" y="652" width="1" height="1" fill="#c0c0c0"/>
<rect x="338" y="652" width="1" height="4" fill="#c0c0c0"/>
<rect x="346" y="652" width="1" height="7" fill="#c0c0c0"/>
<rect x="354" y="652" width="1" height="9" fill="#c0c0c0"/>
<rect x="362" y="652" width="1" height="8" fill="#c0c0c0"/>
<rect x="370" y="652" width="1" height="11" fill="#c0c0c0"/>
<rect x="378" y="652" width="1" height="8" fill="#c0c0c0"/>
<rect x="386" y="652" width="1" height="8" fill="#c0c0c0"/>
<rect x="394" y="652" width="1" height="7" fill="#c0c0c0"/>
<rect x="402" y="652" width="1" height="7" fill="#c0c0c0"/>
<rect x="410" y="652" width="1" height="3" fill="#c0c0c0"/>
<rect x="418" y="649" width="1" height="4" fill="#c0c0c0"/>
<rect x="426" y="643" width="1" height="10" fill="#c0c0c0"/>
<rect x="434" y="640" width="1" height="13" fill="#c0c0c0"/>
<rect x="442" y="636" width="1" height="17" fill="#c0c0c0"/>
<rect x="450" y="632" width="1" height="21" fill="#c0c0c0"/>
<rect x="458" y="629" width="1" height="24" fill="#c0c0c0"/>
<rect x="466" y="625" width="1" height="28" fill="#c0c0c0"/>
<rect x="474" y="624" width="1" height="29" fill="#c0c0c0"/>
<rect x="482" y="625" width="1" height="28" fill="#c0c0c0"/>
<rect x="490" y="625" width="1" height="28" fill="#c0c0c0"/>
<rect x="498" y="624" width="1" height="29" fill="#c0c0c0"/>
<rect x="506" y="623" width="1" height="30" fill="#c0c0c0"/>
<rect x="514" y="621" width="1" height="32" fill="#c0c0c0"/>
<rect x="522" y="619" width="1" height="34" fill="#c0c0c0"/>
<rect x="530" y="617" width="1" height="36" fill="#c0c0c0"/>
<rect x="538" y="619" width="1" height="34" fill="#c0c0c0"/>
<rect x="546" y="619" width="1" height="34" fill="#c0c0c0"/>
<rect x="554" y="621" width="1" height="32" fill="#c0c0c0"/>
<rect x="562" y="621" width="1" height="32" fill="#c0c0c0"/>
<rect x="570" y="623" width="1" height="30" fill="#c0c0c0"/>
<rect x="578" y="624" width="1" height="29" fill="#c0c0c0"/>
<rect x="586" y="625" width="1" height="28" fill="#c0c0c0"/>
<rect x="594" y="625" width="1" height="28" fill="#c0c0c0"/>
<rect x="602" y="621" width="1" height="32" fill="#c0c0c0"/>
<rect x="610" y="616" width="1" height="37" fill="#c0c0c0"/>
<rect x="618" y="612" width="1" height="41" fill="#c0c0c0"/>
<rect x="626" y="611" width="1" height="42" fill="#c0c0c0"/>
<rect x="634" y="609" width="1" height="44" fill="#c0c0c0"/>
<rect x="642" y="609" width="1" height="44" fill="#c0c0c0"/>
<rect x="650" y="609" width="1" height="44" fill="#c0c0c0"/>
<rect x="658" y="611" width="1" height="42" fill="#c0c0c0"/>
<rect x="666" y="612" width="1" height="41" fill="#c0c0c0"/>
<rect x="674" y="614" width="1" height="39" fill="#c0c0c0"/>
<rect x="682" y="616" width="1" height="37" fill="#c0c0c0"/>
<rect x="690" y="616" width="1" height="37" fill="#c0c0c0"/>
<rect x="698" y="617" width="1" height="36" fill="#c0c0c0"/>
<rect x="706" y="617" width="1" height="36" fill="#c0c0c0"/>
<rect x="714" y="617" width="1" height="36" fill="#c0c0c0"/>
<rect x="722" y="618" width="1" height="35" fill="#c0c0c0"/>
<rect x="730" y="617" width="1" height="36" fill="#c0c0c0"/>
<rect x="738" y="616" width="1" height="37" fill="#c0c0c0"/>
<rect x="746" y="616" width="1" height="37" fill="#c0c0c0"/>
<rect x="754" y="615" width="1" height="38" fill="#c0c0c0"/>
<rect x="762" y="616" width="1" height="37" fill="#c0c0c0"/>
<rect x="770" y="618" width="1" height="35" fill="#c0c0c0"/>
<rect x="778" y="619" width="1" height="34" fill="#c0c0c0"/>
<rect x="786" y="620" width="1" height="33" fill="#c0c0c0"/>
<rect x="794" y="621" width="1" height="32" fill="#c0c0c0"/>
<rect x="802" y="622" width="1" height="31" fill="#c0c0c0"/>
<rect x="810" y="624" width="1" height="29" fill="#c0c0c0"/>
<rect x="818" y="625" width="1" height="28" fill="#c0c0c0"/>
<rect x="826" y="623" width="1" height="30" fill="#c0c0c0"/>
<rect x="834" y="623" width="1" height="30" fill="#c0c0c0"/>
<rect x="842" y="626" width="1" height="27" fill="#c0c0c0"/>
<rect x="850" y="625" width="1" height="28" fill="#c0c0c0"/>
<rect x="858" y="623" width="1" height="30" fill="#c0c0c0"/>
<rect x="866" y="623" width="1" height="30" fill="#c0c0c0"/>
<rect x="874" y="618" width="1" height="35" fill="#c0c0c0"/>
<rect x="882" y="613" width="1" height="40" fill="#c0c0c0"/>
<rect x="890" y="603" width="1" height="50" fill="#c0c0c0"/>
<rect x="898" y="596" width="1" height="57" fill="#c0c0c0"/>
<rect x="906" y="592" width="1" height="61" fill="#c0c0c0"/>
<rect x="914" y="588" width="1" height="65" fill="#c0c0c0"/>
<rect x="922" y="589" width="1" height="64" fill="#c0c0c0"/>
<rect x="930" y="589" width="1" height="64" fill="#c0c0c0"/>
<rect x="938" y="598" width="1" height="55" fill="#c0c0c0"/>
<rect x="946" y="601" width="1" height="52" fill="#c0c0c0"/>
<rect x="954" y="599" width="1" height="54" fill="#c0c0c0"/>
<rect x="962" y="598" width="1" height="55" fill="#c0c0c0"/>
<rect x="970" y="603" width="1" height="50" fill="#c0c0c0"/>
<rect x="978" y="607" width="1" height="46" fill="#c0c0c0"/>
<rect x="986" y="612" width="1" height="41" fill="#c0c0c0"/>
<rect x="994" y="617" width="1" height="36" fill="#c0c0c0"/>
<rect x="1002" y="618" width="1" height="35" fill="#c0c0c0"/>
<rect x="1010" y="620" width="1" height="33" fill="#c0c0c0"/>
<rect x="1018" y="623" width="1" height="30" fill="#c0c0c0"/>
<rect x="1026" y="625" width="1" height="28" fill="#c0c0c0"/>
<rect x="1034" y="628" width="1" height="25" fill="#c0c0c0"/>
<rect x="1042" y="634" width="1" height="19" fill="#c0c0c0"/>
<rect x="1050" y="639" width="1" height="14" fill="#c0c0c0"/>
<rect x="1058" y="643" width="1" height="10" fill="#c0c0c0"/>
<rect x="1066" y="643" width="1" height="10" fill="#c0c0c0"/>
<rect x="1074" y="643" width="1" height="10" fill="#c0c0c0"/>
<rect x="1082" y="651" width="1" height="2" fill="#c0c0c0"/>
<rect x="1090" y="652" width="1" height="9" fill="#c0c0c0"/>
<rect x="1098" y="652" width="1" height="15" fill="#c0c0c0"/>
<rect x="1106" y="652" width="1" height="17" fill="#c0c0c0"/>
<rect x="1114" y="652" width="1" height="19" fill="#c0c0c0"/>
<rect x="1122" y="652" width="1" height="20" fill="#c0c0c0"/>
<rect x="1130" y="652" width="1" height="20" fill="#c0c0c0"/>
<rect x="1138" y="652" width="1" height="19" fill="#c0c0c0"/>
<rect x="1146" y="652" width="1" height="19" fill="#c0c0c0"/>
<rect x="1154" y="652" width="1" height="18" fill="#c0c0c0"/>
<rect x="1162" y="652" width="1" height="17" fill="#c0c0c0"/>
<rect x="1170" y="652" width="1" height="17" fill="#c0c0c0"/>
<rect x="1178" y="652" width="1" height="15" fill="#c0c0c0"/>
<rect x="1186" y="652" width="1" height="24" fill="#c0c0c0"/>
<rect x="1194" y="652" width="1" height="36" fill="#c0c0c0"/>
<rect x="1202" y="652" width="1" height="43" fill="#c0c0c0"/>
<rect x="1210" y="652" width="1" height="49" fill="#c0c0c0"/>
<rect x="1218" y="652" width="1" height="54" fill="#c0c0c0"/>
<rect x="1226" y="652" width="1" height="57" fill="#c0c0c0"/>
<rect x="1234" y="652" width="1" height="65" fill="#c0c0c0"/>
<rect x="1242" y="652" width="1" height="71" fill="#c0c0c0"/>
<rect x="1250" y="652" width="1" height="74" fill="#c0c0c0"/>
<rect x="1258" y="652" width="1" height="82" fill="#c0c0c0"/>
<rect x="1266" y="652" width="1" height="87" fill="#c0c0c0"/>
<rect x="1274" y="652" width="1" height="87" fill="#c0c0c0"/>
<rect x="1282" y="652" width="1" height="88" fill="#c0c0c0"/>
<rect x="1290" y="652" width="1" height="82" fill="#c0c0c0"/>
<rect x="1298" y="652" width="1" height="75" fill="#c0c0c0"/>
<rect x="1306" y="652" width="1" height="66" fill="#c0c0c0"/>
<rect x="1314" y="652" width="1" height="57" fill="#c0c0c0"/>
<rect x="1322" y="652" width="1" height="51" fill="#c0c0c0"/>
<rect x="1330" y="652" width="1" height="42" fill="#c0c0c0"/>
<rect x="1338" y="652" width="1" height="35" fill="#c0c0c0"/>
<rect x="1346" y="652" width="1" height="29" fill="#c0c0c0"/>
<rect x="1354" y="652" width="1" height="17" fill="#c0c0c0"/>
<rect x="1362" y="652" width="1" height="11" fill="#c0c0c0"/>
<rect x="1370" y="652" width="1" height="7" fill="#c0c0c0"/>
<rect x="1378" y="652" width="1" height="5" fill="#c0c0c0"/>
<rect x="1386" y="652" width="1" height="5" fill="#c0c0c0"/>
<rect x="1394" y="652" width="1" height="5" fill="#c0c0c0"/>
<rect x="1402" y="652" width="1" height="5" fill="#c0c0c0"/>
<rect x="1410" y="652" width="1" height="9" fill="#c0c0c0"/>
<rect x="1418" y="652" width="1" height="9" fill="#c0c0c0"/>
<rect x="1426" y="652" width="1" height="11" fill="#c0c0c0"/>
<rect x="1434" y="652" width="1" height="12" fill="#c0c0c0"/>
<rect x="1442" y="652" width="1" height="12" fill="#c0c0c0"/>
<path fill="none" stroke="#ff0000" stroke-width="1" shape-rendering="crispEdges" d="M0 638.40 L3 638.40 M6 637.40 L9 637.40 M12 637.40 L15 637.40 M18 637.40 L21 637.40 M24 637.40 L27 637.40 M30 637.40 L33 637.40 M36 637.40 L39 637.40 M42 637.40 L45 637.40 M48 637.40 L51 637.53 M54 638.56 L57 639.08 M60 640.11 L63 640.57 M66 641.10 L69 641.37 M72 641.90 L75 642.17 M78 642.70 L81 643.02 M84 644.02 L87 644.52 M90 645.43 L93 645.54 M96 645.77 L99 645.88 M102 646.11 L105 646.22 M108 646.45 L111 646.56 M114 646.79 L117 646.90 M120 647.12 L123 647.21 M126 647.38 L129 647.47 M132 647.64 L135 647.73 M138 647.90 L141 647.99 M144 648.16 L147 648.25 M150 648.36 L153 648.18 M156 647.84 L159 647.66 M162 647.32 L165 647.14 M168 646.98 L171 646.92 M174 646.78 L177 646.72 M180 646.57 L183 646.45 M186 646.21 L189 646.09 M192 645.85 L195 645.73 M198 645.49 L201 645.34 M204 644.84 L207 644.59 M210 644.09 L213 643.84 M216 643.34 L219 643.09 M222 642.50 L225 642.18 M228 641.54 L231 641.22 M234 640.58 L237 640.00 M240 638.67 L243 638.00 M246 636.67 L249 636.00 M252 634.97 L255 634.54 M258 633.69 L261 633.26 M264 632.41 L267 632.04 M270 631.37 L273 631.02 M276 630.60 L279 630.60 M282 630.60 L285 630.60 M288 630.60 L291 630.60 M294 630.60 L297 630.60 M300 630.72 L303 631.20 M306 632.16 L309 632.64 M312 633.94 L315 634.69 M318 636.19 L321 636.94 M324 638.44 L327 639.19 M330 640.75 L333 641.73 M336 643.71 L339 644.69 M342 646.67 L345 647.65 M348 649.23 L351 649.99 M354 651.51 L357 652.27 M360 653.71 L363 654.12 M366 654.97 L369 655.38 M372 656.23 L375 656.64 M378 657.49 L381 657.84 M384 658.16 L387 658.32 M390 658.64 L393 658.80 M396 659.00 L399 659.00 M402 659.00 L405 659.00 M408 659.00 L411 658.94 M414 658.46 L417 658.22 M420 657.61 L423 656.85 M426 655.33 L429 654.57 M432 653.18 L435 652.53 M438 651.22 L441 650.57 M444 649.26 L447 648.48 M450 646.83 L453 646.00 M456 644.35 L459 643.52 M462 641.67 L465 640.68 M468 638.71 L471 637.72 M474 635.75 L477 635.01 M480 633.70 L483 633.05 M486 631.74 L489 631.09 M492 629.98 L495 629.49 M498 628.50 L501 628.01 M504 627.02 L507 626.53 M510 625.54 L513 625.05 M516 624.06 L519 623.57 M522 622.89 L525 622.64 M528 622.14 L531 621.89 M534 621.39 L537 621.14 M540 620.67 L543 620.55 M546 620.31 L549 620.19 M552 619.95 L555 619.83 M558 619.59 L561 619.50 M564 619.50 L567 619.50 M570 619.50 L573 619.50 M576 619.50 L579 619.50 M582 619.70 L585 619.86 M588 620.18 L591 620.34 M594 620.66 L597 620.75 M600 620.88 L603 620.95 M606 621.08 L609 621.15 M612 620.93 L615 620.71 M618 620.26 L621 620.05 M624 619.61 L627 619.38 M630 618.89 L633 618.47 M636 617.61 L639 617.19 M642 616.33 L645 615.91 M648 615.15 L651 614.78 M654 614.04 L657 613.67 M660 612.93 L663 612.56 M666 612.06 L669 612.01 M672 611.91 L675 611.86 M678 611.76 L681 611.71 M684 611.61 L687 611.72 M690 612.04 L693 612.20 M696 612.52 L699 612.68 M702 612.95 L705 613.07 M708 613.31 L711 613.43 M714 613.67 L717 613.79 M720 614.08 L723 614.38 M726 615.00 L729 615.30 M732 615.92 L735 616.22 M738 616.30 L741 616.30 M744 616.30 L747 616.30 M750 616.30 L753 616.30 M756 616.30 L759 616.30 M762 616.36 L765 616.40 M768 616.50 L771 616.54 M774 616.64 L777 616.68 M780 616.78 L783 616.83 M786 616.92 L789 616.97 M792 617.20 L795 617.36 M798 617.68 L801 617.84 M804 618.16 L807 618.32 M810 618.64 L813 618.80 M816 619.25 L819 619.60 M822 620.28 L825 620.62 M828 620.91 L831 621.03 M834 621.27 L837 621.39 M840 621.63 L843 621.75 M846 622.00 L849 622.13 M852 622.39 L855 622.52 M858 622.78 L861 622.91 M864 623.17 L867 623.07 M870 622.72 L873 622.55 M876 622.20 L879 622.03 M882 621.17 L885 620.60 M888 619.43 L891 618.88 M894 617.88 L897 617.38 M900 616.25 L903 615.27 M906 613.32 L909 612.34 M912 610.17 L915 609.03 M918 606.75 L921 605.62 M924 603.34 L927 602.20 M930 600.03 L933 599.33 M936 597.93 L939 597.23 M942 596.10 L945 595.62 M948 594.66 L951 594.26 M954 593.94 L957 593.78 M960 593.57 L963 593.83 M966 594.35 L969 594.61 M972 595.27 L975 595.65 M978 596.42 L981 596.85 M984 598.05 L987 598.65 M990 599.93 L993 600.83 M996 602.62 L999 603.53 M1002 604.90 L1005 605.46 M1008 606.58 L1011 607.14 M1014 608.26 L1017 608.89 M1020 610.20 L1023 610.85 M1026 612.16 L1029 612.81 M1032 614.25 L1035 615.01 M1038 616.53 L1041 617.29 M1044 618.81 L1047 619.66 M1050 621.42 L1053 622.30 M1056 624.06 L1059 624.94 M1062 626.55 L1065 627.31 M1068 628.83 L1071 629.59 M1074 631.11 L1077 632.22 M1080 634.67 L1083 635.90 M1086 638.35 L1089 639.58 M1092 641.85 L1095 642.93 M1098 645.09 L1101 646.17 M1104 648.33 L1107 649.34 M1110 651.31 L1113 652.30 M1116 654.27 L1119 655.26 M1122 657.12 L1125 658.01 M1128 659.80 L1131 660.69 M1134 662.48 L1137 663.19 M1140 664.50 L1143 665.15 M1146 666.46 L1149 667.11 M1152 668.02 L1155 668.35 M1158 669.02 L1161 669.35 M1164 670.02 L1167 670.10 M1170 670.10 L1173 670.10 M1176 670.10 L1179 670.10 M1182 670.52 L1185 670.85 M1188 671.52 L1191 671.85 M1194 672.52 L1197 673.22 M1200 674.87 L1203 675.70 M1206 677.35 L1209 678.18 M1212 679.82 L1215 680.63 M1218 682.26 L1221 683.07 M1224 684.70 L1227 686.06 M1230 689.14 L1233 690.68 M1236 693.76 L1239 695.30 M1242 698.26 L1245 699.31 M1248 701.41 L1251 702.63 M1254 706.08 L1257 707.81 M1260 711.41 L1263 713.26 M1266 716.77 L1269 717.84 M1272 719.99 L1275 721.14 M1278 723.84 L1281 725.19 M1284 727.20 L1287 728.00 M1290 729.48 L1293 729.77 M1296 730.38 L1299 730.57 M1302 730.32 L1305 730.19 M1308 729.10 L1311 728.30 M1314 726.67 L1317 725.74 M1320 723.89 L1323 722.93 M1326 720.73 L1329 719.62 M1332 717.08 L1335 715.71 M1338 712.99 L1341 711.77 M1344 709.32 L1347 707.91 M1350 703.96 L1353 701.98 M1356 697.94 L1359 695.89 M1362 691.81 L1365 689.83 M1368 685.88 L1371 684.02 M1374 680.97 L1377 679.44 M1380 676.74 L1383 675.49 M1386 673.02 L1389 671.92 M1392 669.73 L1395 668.62 M1398 666.37 L1401 665.24 M1404 663.65 L1407 663.05 M1410 661.89 L1413 661.44 M1416 660.54 L1419 660.16 M1422 659.81 L1425 659.63 M1428 659.56 L1431 659.61 M1434 659.81 L1437 660.26 M1440 661.16 L1443 661.50"/>
</g>
<g shape-rendering="crispEdges"><line x1="1366.5" y1="655.3" x2="1462" y2="669.2" stroke="#ff0000" stroke-width="3.4" stroke-linecap="round"/>
<polygon points="1458,664 1469,670.5 1457,673.5" fill="#ff0000" stroke="#ff0000" stroke-width="1.5" stroke-linejoin="round"/></g>
<g clip-path="url(#cr)">
<g shape-rendering="crispEdges" stroke="#c0c0c0" stroke-width="1" stroke-dasharray="3,3">
<line x1="1" y1="786.5" x2="1653" y2="786.5"/>
<line x1="1" y1="837.5" x2="1653" y2="837.5"/>
<line x1="1" y1="898.5" x2="1653" y2="898.5"/>
</g>
<g shape-rendering="crispEdges"><line x1="1339" y1="831" x2="1440" y2="859" stroke="#ff0000" stroke-width="3.6" stroke-linecap="round"/>
<polygon points="1437.5,853.5 1447.5,861.4 1435,864" fill="#ff0000" stroke="#ff0000" stroke-width="1.5" stroke-linejoin="round"/></g>
<polyline fill="none" stroke="#1e90ff" stroke-width="1" shape-rendering="crispEdges" points="-5.0,829.00 3.0,829.60 11.0,830.00 19.0,838.30 27.0,838.30 35.0,841.60 43.0,839.30 51.0,841.20 59.0,836.40 67.0,833.10 75.0,823.40 83.0,842.60 91.0,842.60 99.0,837.00 107.0,835.40 115.0,836.40 123.0,830.20 131.0,835.40 139.0,837.70 147.0,834.40 155.0,832.50 163.0,825.30 171.0,838.30 179.0,827.60 187.0,826.70 195.0,826.70 203.0,824.30 211.0,828.20 219.0,823.40 227.0,821.20 235.0,809.80 243.0,804.30 251.0,805.70 259.0,807.30 267.0,804.30 275.0,840.30 283.0,848.40 291.0,844.50 299.0,852.30 307.0,842.60 315.0,852.30 323.0,841.20 331.0,838.30 339.0,848.40 347.0,848.40 355.0,851.30 363.0,837.70 371.0,850.30 379.0,835.40 387.0,837.30 395.0,837.30 403.0,837.30 411.0,835.00 419.0,817.50 427.0,816.40 435.0,824.10 443.0,818.50 451.0,817.40 459.0,814.10 467.0,810.60 475.0,820.30 483.0,823.40 491.0,824.30 499.0,817.50 507.0,815.40 515.0,810.20 523.0,808.20 531.0,807.30 539.0,820.30 547.0,817.40 555.0,816.40 563.0,816.60 571.0,821.40 579.0,821.40 587.0,815.00 595.0,812.70 603.0,800.90 611.0,793.30 619.0,792.10 627.0,804.30 635.0,800.50 643.0,805.30 651.0,805.70 659.0,814.10 667.0,810.60 675.0,816.40 683.0,813.10 691.0,809.20 699.0,810.60 707.0,806.30 715.0,805.30 723.0,806.70 731.0,800.50 739.0,796.20 747.0,798.50 755.0,795.60 763.0,809.20 771.0,809.20 779.0,807.30 787.0,802.40 795.0,806.70 803.0,805.30 811.0,815.60 819.0,811.10 827.0,800.90 835.0,799.10 843.0,829.60 851.0,813.10 859.0,811.50 867.0,811.50 875.0,793.70 883.0,792.10 891.0,782.40 899.0,782.40 907.0,785.30 915.0,784.40 923.0,800.50 931.0,799.50 939.0,827.30 947.0,822.80 955.0,808.20 963.0,810.20 971.0,826.30 979.0,826.50 987.0,829.60 995.0,833.50 1003.0,823.40 1011.0,828.20 1019.0,828.20 1027.0,827.30 1035.0,831.90 1043.0,842.60 1051.0,847.00 1059.0,843.20 1067.0,832.50 1075.0,832.50 1083.0,856.80 1091.0,864.10 1099.0,858.70 1107.0,854.40 1115.0,848.60 1123.0,854.40 1131.0,845.10 1139.0,841.20 1147.0,847.00 1155.0,848.40 1163.0,845.10 1171.0,843.60 1179.0,844.50 1187.0,867.40 1195.0,880.00 1203.0,864.50 1211.0,867.40 1219.0,871.30 1227.0,865.90 1235.0,875.20 1243.0,876.60 1251.0,873.30 1259.0,881.40 1267.0,877.10 1275.0,872.70 1283.0,875.20 1291.0,855.80 1299.0,849.00 1307.0,844.30 1315.0,844.20 1323.0,841.50 1331.0,835.10 1339.0,837.20 1347.0,837.20 1355.0,820.70 1363.0,824.80 1371.0,834.50 1379.0,840.60 1387.0,837.20 1395.0,840.30 1403.0,840.30 1411.0,847.30 1419.0,842.30 1427.0,849.70 1435.0,854.40 1443.0,851.10"/>
</g>
<g fill="#000" shape-rendering="crispEdges">
<rect x="0" y="23" width="1654" height="1"/>
<rect x="0" y="576" width="1654" height="1"/>
<rect x="0" y="578" width="1654" height="1"/>
<rect x="0" y="748" width="1654" height="1"/>
<rect x="0" y="750" width="1654" height="1"/>
<rect x="0" y="924" width="1654" height="1"/>
<rect x="1653" y="23" width="1" height="902"/>
</g>
<polygon points="1448,24 1457,24 1452.5,29" fill="#c0c0c0"/>
<g style='font-family:"Liberation Sans",sans-serif;' font-size="9.3" fill="#000" stroke="#000" stroke-width="0.22">
<rect x="1654" y="45" width="3" height="1" shape-rendering="crispEdges"/>
<text x="1659" y="48.9">116.370</text>
<rect x="1654" y="78" width="3" height="1" shape-rendering="crispEdges"/>
<text x="1659" y="81.7">116.165</text>
<rect x="1654" y="110" width="3" height="1" shape-rendering="crispEdges"/>
<text x="1659" y="114.4">115.960</text>
<rect x="1654" y="144" width="3" height="1" shape-rendering="crispEdges"/>
<text x="1659" y="148.0">115.750</text>
<rect x="1654" y="177" width="3" height="1" shape-rendering="crispEdges"/>
<text x="1659" y="180.7">115.545</text>
<rect x="1654" y="209" width="3" height="1" shape-rendering="crispEdges"/>
<text x="1659" y="213.5">115.340</text>
<rect x="1654" y="243" width="3" height="1" shape-rendering="crispEdges"/>
<text x="1659" y="247.1">115.130</text>
<rect x="1654" y="276" width="3" height="1" shape-rendering="crispEdges"/>
<text x="1659" y="279.8">114.925</text>
<rect x="1654" y="309" width="3" height="1" shape-rendering="crispEdges"/>
<text x="1659" y="312.6">114.720</text>
<rect x="1654" y="342" width="3" height="1" shape-rendering="crispEdges"/>
<text x="1659" y="344.9">114.510</text>
<rect x="1654" y="375" width="3" height="1" shape-rendering="crispEdges"/>
<text x="1659" y="378.9">114.305</text>
<rect x="1654" y="408" width="3" height="1" shape-rendering="crispEdges"/>
<text x="1659" y="411.6">114.100</text>
<rect x="1654" y="441" width="3" height="1" shape-rendering="crispEdges"/>
<text x="1659" y="445.2">113.890</text>
<rect x="1654" y="474" width="3" height="1" shape-rendering="crispEdges"/>
<text x="1659" y="478.0">113.685</text>
<rect x="1654" y="507" width="3" height="1" shape-rendering="crispEdges"/>
<text x="1659" y="510.7">113.480</text>
<rect x="1654" y="540" width="3" height="1" shape-rendering="crispEdges"/>
<text x="1659" y="544.3">113.270</text>
<rect x="1654" y="573" width="3" height="1" shape-rendering="crispEdges"/>
<text x="1659" y="577.0">113.065</text>
</g>
<rect x="1655" y="314" width="41" height="11" fill="#ff0000"/>
<text x="1659" y="323.0" font-size="9.3" fill="#fff" style='font-family:"Liberation Sans",sans-serif;'>114.650</text>
<rect x="1655" y="340" width="41" height="11" fill="#ff0000"/>
<text x="1659" y="349.0" font-size="9.3" fill="#fff" style='font-family:"Liberation Sans",sans-serif;'>114.487</text>
<rect x="1655" y="364" width="41" height="11" fill="#32cd32"/>
<text x="1659" y="373.0" font-size="9.3" fill="#fff" style='font-family:"Liberation Sans",sans-serif;'>114.337</text>
<rect x="1655" y="375" width="41" height="11" fill="#000000"/>
<text x="1659" y="384.0" font-size="9.3" fill="#fff" style='font-family:"Liberation Sans",sans-serif;'>114.283</text>
<rect x="1655" y="401" width="41" height="11" fill="#0000ff"/>
<text x="1659" y="410.0" font-size="9.3" fill="#fff" style='font-family:"Liberation Sans",sans-serif;'>114.106</text>
<rect x="1655" y="424" width="41" height="11" fill="#0000ff"/>
<text x="1659" y="433.0" font-size="9.3" fill="#fff" style='font-family:"Liberation Sans",sans-serif;'>113.962</text>
<g style='font-family:"Liberation Sans",sans-serif;' font-size="9.3" fill="#000" stroke="#000" stroke-width="0.22">
<rect x="1654" y="580" width="2" height="1" shape-rendering="crispEdges"/>
<text x="1657" y="589">0.3584</text>
<rect x="1654" y="652" width="3" height="1" shape-rendering="crispEdges"/>
<text x="1658" y="655.5">0.00</text>
<rect x="1654" y="747" width="2" height="1" shape-rendering="crispEdges"/>
<text x="1657" y="745">-0.4734</text>
<rect x="1654" y="752" width="2" height="1" shape-rendering="crispEdges"/>
<text x="1657.5" y="761">100</text>
<text x="1656" y="790">80</text>
<text x="1656" y="841">50</text>
<text x="1656" y="902">15</text>
<text x="1657" y="921">0</text>
<rect x="1654" y="923" width="2" height="1" shape-rendering="crispEdges"/>
</g>
<g style='font-family:"Liberation Sans",sans-serif;' font-size="9.2" fill="#000" stroke="#000" stroke-width="0.22">
<text x="2" y="937">Dec 2021</text>
<rect x="58" y="925" width="1" height="3" shape-rendering="crispEdges"/>
<text x="58" y="937">10 Dec 00:00</text>
<rect x="122" y="925" width="1" height="3" shape-rendering="crispEdges"/>
<text x="122" y="937">13 Dec 08:00</text>
<rect x="186" y="925" width="1" height="3" shape-rendering="crispEdges"/>
<text x="186" y="937">14 Dec 16:00</text>
<rect x="250" y="925" width="1" height="3" shape-rendering="crispEdges"/>
<text x="250" y="937">16 Dec 00:00</text>
<rect x="314" y="925" width="1" height="3" shape-rendering="crispEdges"/>
<text x="314" y="937">17 Dec 08:00</text>
<rect x="378" y="925" width="1" height="3" shape-rendering="crispEdges"/>
<text x="378" y="937">20 Dec 16:00</text>
<rect x="442" y="925" width="1" height="3" shape-rendering="crispEdges"/>
<text x="442" y="937">22 Dec 00:00</text>
<rect x="506" y="925" width="1" height="3" shape-rendering="crispEdges"/>
<text x="506" y="937">23 Dec 08:00</text>
<rect x="570" y="925" width="1" height="3" shape-rendering="crispEdges"/>
<text x="570" y="937">24 Dec 16:00</text>
<rect x="634" y="925" width="1" height="3" shape-rendering="crispEdges"/>
<text x="634" y="937">28 Dec 00:00</text>
<rect x="698" y="925" width="1" height="3" shape-rendering="crispEdges"/>
<text x="698" y="937">29 Dec 08:00</text>
<rect x="762" y="925" width="1" height="3" shape-rendering="crispEdges"/>
<text x="762" y="937">30 Dec 16:00</text>
<rect x="826" y="925" width="1" height="3" shape-rendering="crispEdges"/>
<text x="826" y="937">3 Jan 00:00</text>
<rect x="890" y="925" width="1" height="3" shape-rendering="crispEdges"/>
<text x="890" y="937">4 Jan 08:00</text>
<rect x="954" y="925" width="1" height="3" shape-rendering="crispEdges"/>
<text x="954" y="937">5 Jan 16:00</text>
<rect x="1018" y="925" width="1" height="3" shape-rendering="crispEdges"/>
<text x="1018" y="937">7 Jan 00:00</text>
<rect x="1082" y="925" width="1" height="3" shape-rendering="crispEdges"/>
<text x="1082" y="937">10 Jan 08:00</text>
<rect x="1146" y="925" width="1" height="3" shape-rendering="crispEdges"/>
<text x="1146" y="937">11 Jan 16:00</text>
<rect x="1210" y="925" width="1" height="3" shape-rendering="crispEdges"/>
<text x="1210" y="937">13 Jan 00:00</text>
<rect x="1274" y="925" width="1" height="3" shape-rendering="crispEdges"/>
<text x="1274" y="937">14 Jan 08:00</text>
<rect x="1338" y="925" width="1" height="3" shape-rendering="crispEdges"/>
<text x="1338" y="937">17 Jan 16:00</text>
<rect x="1402" y="925" width="1" height="3" shape-rendering="crispEdges"/>
<text x="1402" y="937">19 Jan 00:00</text>
</g>
<g style='font-family:"Liberation Sans",sans-serif;' font-size="9.3" fill="#000" stroke="#000" stroke-width="0.22">
<polygon points="0,30 4,34 0,34" fill="#000"/>
<text x="9" y="34.6" fill="#000" font-size="9.45">USDJPY-,H4&#160;&#160;114.230 114.289 114.199 114.283</text>
<text x="-1.3" y="591">MACD(12,26,9) -0.0786 -0.0438</text>
<text x="-1.5" y="763">RSI(14) 42.4235</text>
</g>
</svg>
<div id="tb">
<svg width="1700" height="19" viewBox="0 0 1700 19" style="position:absolute;left:0;top:0">
<defs>
<linearGradient id="gp" x1="0" y1="0" x2="0" y2="1"><stop offset="0" stop-color="#8ef58e"/><stop offset="1" stop-color="#10d010"/></linearGradient>
<linearGradient id="gc" x1="0" y1="0" x2="0" y2="1"><stop offset="0" stop-color="#a0f8a0"/><stop offset="1" stop-color="#20d020"/></linearGradient>
<linearGradient id="gb" x1="0" y1="0" x2="1" y2="1"><stop offset="0" stop-color="#f8dc60"/><stop offset="1" stop-color="#d09a18"/></linearGradient>
<linearGradient id="gl" x1="0" y1="0" x2="0" y2="1"><stop offset="0" stop-color="#f4fbff"/><stop offset="1" stop-color="#c8e4f8"/></linearGradient>
<linearGradient id="gcl" x1="0" y1="0" x2="0" y2="1"><stop offset="0" stop-color="#ffffff"/><stop offset="1" stop-color="#c2cde2"/></linearGradient>
<linearGradient id="gsw" x1="0" y1="0" x2="0" y2="1"><stop offset="0" stop-color="#e4f0e4"/><stop offset="1" stop-color="#6cc46c"/></linearGradient>
<linearGradient id="gbd" x1="0" y1="0" x2="0" y2="1"><stop offset="0" stop-color="#ea5a30"/><stop offset="1" stop-color="#d41e0c"/></linearGradient>
<pattern id="chk" width="2" height="2" patternUnits="userSpaceOnUse"><rect width="2" height="2" fill="#fbfbfb"/><rect width="1" height="1" fill="#f3f3f3"/><rect x="1" y="1" width="1" height="1" fill="#f3f3f3"/></pattern>
</defs>
<g fill="none" stroke-linecap="butt">
<!-- magnifier (cut) -->
<circle cx="-1" cy="8.3" r="4" fill="url(#gl)" stroke="#5b95d6" stroke-width="1.3"/>
<line x1="2" y1="12.2" x2="6" y2="16.2" stroke="#c89a1a" stroke-width="2.6"/>
<line x1="1.3" y1="0" x2="1.3" y2="3" stroke="#c9c4b8" stroke-width="1"/>
<!-- separators -->
<g stroke="#9a9a9a" stroke-width="1" shape-rendering="crispEdges">
<line x1="14.5" y1="0" x2="14.5" y2="17"/><line x1="303.5" y1="0" x2="303.5" y2="17"/><line x1="341.5" y1="0" x2="341.5" y2="17"/>
<line x1="398.5" y1="0" x2="398.5" y2="17"/><line x1="488.5" y1="0" x2="488.5" y2="17"/><line x1="493.5" y1="0" x2="493.5" y2="17"/>
<line x1="521.5" y1="0" x2="521.5" y2="17"/><line x1="550.5" y1="0" x2="550.5" y2="17"/><line x1="671.5" y1="0" x2="671.5" y2="17"/>
<line x1="681.5" y1="0" x2="681.5" y2="17"/><line x1="738.5" y1="0" x2="738.5" y2="17"/><line x1="976.5" y1="0" x2="976.5" y2="17"/>
<line x1="1127.5" y1="0" x2="1127.5" y2="17"/><line x1="1238.5" y1="0" x2="1238.5" y2="17"/>
</g>
<!-- grips -->
<g stroke="#a8a8a8" stroke-width="1" stroke-dasharray="1,1" shape-rendering="crispEdges">
<line x1="307.5" y1="1" x2="307.5" y2="16"/><line x1="309.5" y1="1" x2="309.5" y2="16"/>
<line x1="675.5" y1="1" x2="675.5" y2="16"/><line x1="677.5" y1="1" x2="677.5" y2="16"/>
<line x1="981.5" y1="1" x2="981.5" y2="16"/><line x1="983.5" y1="1" x2="983.5" y2="16"/>
</g>
<!-- selected backgrounds -->
<g stroke="none" fill="url(#chk)"><rect x="342" y="0" width="24" height="18"/><rect x="494" y="0" width="24" height="18"/><rect x="522" y="0" width="24" height="18"/><rect x="682" y="0" width="24" height="18"/><rect x="1128" y="0" width="24" height="18"/></g>
<!-- new order -->
<path d="M24.8 0 V11.4 q0 1.2 1.2 1.2 H35.2 V2.6 L32.6 0" fill="#fff" stroke="#7a7a7a" stroke-width="1"/>
<path d="M32.5 0 v2.7 h2.7" stroke="#7a7a7a" stroke-width="1"/>
<g stroke="#8a8a8a" stroke-width="0.9"><line x1="26" y1="1.9" x2="29" y2="1.9"/><line x1="26" y1="5.5" x2="32" y2="5.5"/><line x1="26" y1="7.5" x2="31" y2="7.5"/><line x1="26" y1="9.4" x2="28.5" y2="9.4"/></g>
<path d="M32.2 5.6 h3.6 v3.8 h3.6 v3.4 h-3.6 v3.8 h-3.6 v-3.8 h-3.7 v-3.4 h3.7z" fill="url(#gp)" stroke="#0a9a0a" stroke-width="0.9"/>
<!-- book -->
<path d="M125.3 0.2 L135.7 7.6 L135.7 9.6 L127.8 14.6 L120 10.2 L120.2 8.4 Z" fill="url(#gb)" stroke="#9a5a0c" stroke-width="0.9" stroke-linejoin="round"/>
<path d="M120.4 8.6 L127.9 12.6 L135.4 7.9" stroke="#a86a14" stroke-width="0.8"/>
<path d="M121 9.8 L127.9 13.6 L135 9" stroke="#f6e6a0" stroke-width="0.7"/>
<path d="M125.2 0.4 Q123 3 121 7.6" stroke="#c8901c" stroke-width="0.6"/>
<!-- cloud/server -->
<path d="M150.3 0 V8 H161 V0 Z" fill="#1c8ae8" stroke="#1466c8" stroke-width="0.8"/>
<path d="M152.6 0 V8" stroke="#7cc4ff" stroke-width="0.9"/>
<rect x="154.6" y="3.6" width="5" height="1.3" fill="#e6f4ff" stroke="none"/>
<rect x="154" y="0" width="6.2" height="0.8" fill="#8ccfff" stroke="none"/>
<path d="M149.6 14.6 Q147.2 13.6 148.4 11.3 Q149.4 9.6 151.4 10.2 Q152.4 7.4 155.6 7.8 Q157.4 7 158.7 8.8 Q160.4 7.8 161.8 9.6 Q164 10.6 163.6 12.6 Q163.4 14.6 161.4 14.6 Z" fill="url(#gcl)" stroke="#4a64a0" stroke-width="1"/>
<!-- signal -->
<path d="M183.9 6.7 L183.9 -1.3 A8 8 0 0 1 184.6 14.7 Z" fill="url(#gsw)" stroke="none"/>
<circle cx="183.9" cy="6.7" r="7.4" stroke="#6a8fd0" stroke-width="1" stroke-dasharray="2,1"/>
<circle cx="183.9" cy="6.7" r="4.6" stroke="#6f9ad8" stroke-width="1" stroke-dasharray="2,1"/>
<circle cx="183.9" cy="6.7" r="1.9" fill="#2456c6" stroke="none"/>
<path d="M184.6 7 V14.8" stroke="#1aa01a" stroke-width="1.3"/>
<!-- autotrading -->
<path d="M203.3 6.6 L218.2 5.8 L211 14.8 Z" fill="#f8e060" stroke="#c89a18" stroke-width="0.9" stroke-linejoin="round"/>
<ellipse cx="210.8" cy="3.6" rx="7.8" ry="2.4" fill="#62b4ea" stroke="#2f86c8" stroke-width="0.9"/>
<path d="M208.6 3.4 Q209.4 0 210.4 -1 H211.8 Q212.8 0 213.4 3.4 Z" fill="#7cc2f0" stroke="#2f86c8" stroke-width="0.7"/>
<circle cx="215.4" cy="10.5" r="4.1" fill="#e0240e" stroke="#b01408" stroke-width="0.7"/>
<rect x="213.9" y="9" width="3" height="3" fill="#fff" stroke="none"/>
<!-- chart type icons -->
<g stroke="#555" stroke-width="1.2">
<path d="M321.5 1.2 V15 M319 12.5 H333 M319.8 3 L321.5 1.2 L323.2 3 M331.2 10.8 L333 12.5 L331.2 14.2"/>
<path d="M349.5 1.2 V15 M347 12.5 H361 M347.8 3 L349.5 1.2 L351.2 3 M359.2 10.8 L361 12.5 L359.2 14.2"/>
<path d="M377.5 1.2 V15 M375 12.5 H389 M375.8 3 L377.5 1.2 L379.2 3 M387.2 10.8 L389 12.5 L387.2 14.2"/>
<path d="M501.5 1.2 V14.6 M499 12.3 H513 M499.8 3 L501.5 1.2 L503.2 3 M511.2 10.6 L513 12.3 L511.2 14"/>
<path d="M529.5 1.2 V14.6 M527 12.3 H541 M527.8 3 L529.5 1.2 L531.2 3 M539.2 10.6 L541 12.3 L539.2 14"/>
</g>
<path d="M325.2 9.4 H327.5 M327.5 2 V10.6 M327.5 3.4 H330" stroke="#0a8a0a" stroke-width="1.2"/>
<line x1="355.5" y1="0" x2="355.5" y2="10.8" stroke="#0a8a0a" stroke-width="1"/>
<rect x="353.5" y="1.5" width="4" height="7.2" fill="url(#gc)" stroke="#0a9a0a" stroke-width="1"/>
<path d="M376.2 9.6 Q379 5 382.3 4.2 Q384.5 4 387.7 8.2" stroke="#3aa03a" stroke-width="1.3"/>
<path d="M506.1 3 V9.8 L510.2 6.4 Z" fill="#70f070" stroke="#0aa00a" stroke-width="0.9"/>
<line x1="535.5" y1="1.2" x2="535.5" y2="10.7" stroke="#1a6aa0" stroke-width="1.3"/>
<path d="M541 6.4 H537.2 M538.8 4.6 L536.8 6.4 L538.8 8.2" stroke="#e8601a" stroke-width="1.4"/>
<!-- zoom in/out -->
<line x1="417" y1="9" x2="422" y2="14" stroke="#cfa31c" stroke-width="2.8"/>
<circle cx="413" cy="5" r="5.5" fill="url(#gl)" stroke="#3a80c8" stroke-width="1.2"/>
<path d="M409 5 H417 M413 1 V9" stroke="#4a86b8" stroke-width="1.8"/>
<line x1="444.8" y1="9" x2="449.8" y2="14" stroke="#cfa31c" stroke-width="2.8"/>
<circle cx="440.8" cy="5" r="5.5" fill="url(#gl)" stroke="#3a80c8" stroke-width="1.2"/>
<path d="M436.8 5 H444.8" stroke="#4a86b8" stroke-width="1.8"/>
<!-- tile -->
<g stroke="none"><rect x="463.3" y="0" width="7.4" height="6.8" fill="#3aa020"/><rect x="471.4" y="0" width="7.4" height="6.8" fill="#2256d0"/><rect x="463.3" y="7.5" width="7.4" height="7.3" fill="#2256d0"/><rect x="471.4" y="7.5" width="7.4" height="7.3" fill="#3aa020"/></g>
<g stroke="none" fill="#fff"><rect x="464.4" y="2.6" width="5.2" height="3"/><rect x="472.5" y="2.6" width="5.2" height="3"/><rect x="464.4" y="10.2" width="5.2" height="3.2"/><rect x="472.5" y="10.2" width="5.2" height="3.2"/></g>
<g stroke="none"><rect x="465.3" y="3.6" width="3.4" height="0.9" fill="#9ad27a"/><rect x="473.4" y="3.6" width="3.4" height="0.9" fill="#7a9ae0"/><rect x="465.3" y="11.2" width="3.4" height="0.9" fill="#7a9ae0"/><rect x="473.4" y="11.2" width="3.4" height="0.9" fill="#9ad27a"/></g>
<!-- indicators -->
<path d="M560.5 0 V11.4 q0 1.2 1.2 1.2 H571.5 V2 L569.5 0" fill="#fff" stroke="#7a7a7a" stroke-width="1"/>
<path d="M563 2 q-1 0 -1 1.5 v5" stroke="#777" stroke-width="0.8"/>
<path d="M568.2 5.4 h3.6 v3.8 h3.6 v3.4 h-3.6 v3.8 h-3.6 v-3.8 h-3.7 v-3.4 h3.7z" fill="url(#gp)" stroke="#0a9a0a" stroke-width="0.9"/>
<!-- clock -->
<circle cx="605.8" cy="6.7" r="6.8" fill="#eef6fd" stroke="#1a6ed4" stroke-width="2.2"/>
<path d="M605.6 2.5 V7 H608.6" stroke="#333" stroke-width="1"/>
<!-- templates -->
<rect x="637.7" y="0" width="14.8" height="13.3" rx="0.8" fill="#fff" stroke="#3a6ec0" stroke-width="1"/>
<rect x="637.7" y="0" width="14.8" height="1.8" fill="#3a6ec0" stroke="none"/>
<line x1="638" y1="8" x2="652" y2="8" stroke="#3a6ec0" stroke-width="1"/>
<path d="M639.3 6 L641.5 6 L643.2 4.8 L645 5.6 L647 4.2 L649.2 5 L650.8 4.2" stroke="#a02a10" stroke-width="1"/>
<path d="M639.3 11.2 L641.5 10.6 L643.2 11.4 L645 9.8 L647 10.4 L648.5 9.2 L650.8 11.4" stroke="#2a9a2a" stroke-width="1"/>
<!-- dropdown arrows -->
<g fill="#000" stroke="none"><path d="M581.8 6 H587.2 L584.5 9.2Z"/><path d="M621 6 H626.4 L623.7 9.2Z"/><path d="M660.2 6 H665.6 L662.9 9.2Z"/><path d="M965.6 5.8 H971 L968.3 9Z"/></g>
<!-- cursor -->
<path d="M688.6 1.2 V12.6 L691.2 10 L693.2 14.2 L695.2 13.2 L693.2 9.2 L696.8 9.2 Z" fill="#444" stroke="none"/>
<!-- crosshair -->
<path d="M721.5 0 V6 M721.5 9 V15 M714 7.4 H719.8 M723.2 7.4 H729" stroke="#4a4a4a" stroke-width="1.2"/><rect x="721" y="7" width="1" height="1" fill="#777" stroke="none"/>
<!-- v line, h line, trend -->
<line x1="755.7" y1="1.5" x2="755.7" y2="14" stroke="#555" stroke-width="1.1"/>
<line x1="777.6" y1="7.4" x2="790.3" y2="7.4" stroke="#555" stroke-width="1.1"/>
<line x1="805.8" y1="13.7" x2="818.6" y2="1.8" stroke="#555" stroke-width="1.1"/>
<!-- equidistant channel -->
<path d="M832 8.5 L845 0.5 M834.5 13.5 L847.5 5.2 M835 6.8 L837.4 11.6 M838.3 4.8 L840.6 9.6 M841.6 2.8 L843.8 7.6" stroke="#555" stroke-width="1"/>
<path d="M847.2 11.4 H843.6 V15.4 H847.2 M843.6 13.4 H846.6" stroke="#444" stroke-width="1.2"/>
<!-- fibo -->
<g stroke="#666" stroke-width="1" stroke-dasharray="1,1" shape-rendering="crispEdges"><line x1="861" y1="0.5" x2="874" y2="0.5"/><line x1="861" y1="3.5" x2="874" y2="3.5"/><line x1="861" y1="7.5" x2="874" y2="7.5"/><line x1="861" y1="11.5" x2="870" y2="11.5"/></g>
<path d="M875 11.4 H871.6 V15.8 M871.6 13.4 H874.4" stroke="#444" stroke-width="1.2"/>
<!-- A -->
<text x="891.2" y="12.2" font-size="12" fill="#555" stroke="none" font-family="Liberation Sans, sans-serif">A</text>
<!-- T box -->
<rect x="918.5" y="1.5" width="10.5" height="12" stroke="#777" stroke-width="1" stroke-dasharray="1,1" shape-rendering="crispEdges"/>
<path d="M920.6 4.6 H927.4 M924 4.6 V11.6" stroke="#555" stroke-width="1.6"/>
<!-- arrows icon -->
<path d="M945.4 3.4 L947.8 1 L950.2 3.4 L947.8 5.8Z M953 11.2 L955.6 8.8 L958.4 11.2 L955.6 13.8Z" fill="#555" stroke="none"/>
<path d="M947 7.6 L949 9.8 L953.2 5.8" stroke="#555" stroke-width="1.3"/>
<!-- search -->
<circle cx="1655.5" cy="4.1" r="3.6" fill="#f2f4ff" stroke="#2a5ed0" stroke-width="1.5"/>
<line x1="1652.6" y1="7.2" x2="1648.6" y2="11.8" stroke="#2a5ed0" stroke-width="2.4" stroke-linecap="round"/>
<!-- bubble + badge -->
<path d="M1673 9.5 Q1673 4.3 1679 4.3 Q1685.5 4.3 1685.5 9.2 Q1685.5 13.6 1679 13.6 L1676.8 13.6 L1675.3 15.6 L1675.4 13.2 Q1673 12.2 1673 9.5Z" fill="#e2e4ee" stroke="#9a9a9a" stroke-width="1"/>
<circle cx="1686.4" cy="5.4" r="8.1" fill="url(#gbd)" stroke="none"/>
<path d="M1685.2 1 H1687.3 V9.2 H1688.9 V10.2 H1683.6 V9.2 H1685.2 V3.4 L1683.8 4 V3 Z" fill="#fff" stroke="none"/>
</g>
<!-- texts -->
<g font-family="Liberation Sans, sans-serif" fill="#000">
<text x="43.5" y="10" font-size="12.6" textLength="64" lengthAdjust="spacingAndGlyphs">New Order</text>
<text x="224.4" y="10.2" font-size="12.6" textLength="71" lengthAdjust="spacingAndGlyphs">AutoTrading</text>
</g>
<g font-family="Liberation Sans, sans-serif" fill="#404040" font-size="9.4">
<text x="992.2" y="11">M1</text><text x="1020.5" y="11">M5</text><text x="1046.5" y="11">M15</text><text x="1074.5" y="11">M30</text>
<text x="1105.4" y="11">H1</text><text x="1132.2" y="11">H4</text><text x="1161.7" y="11">D1</text><text x="1188.8" y="11">W1</text><text x="1215.5" y="11">MN</text>
</g>
</svg>
</div>
<div id="tbl"></div>
<div style="position:absolute;left:0;top:21px;width:1699px;height:2px;background:#fff"></div>

<!-- one click trading panel -->
<div id="oc">
  <div class="oc-top" style="left:0;width:49px;border-right:1px solid #b80000;"></div>
  <div class="oc-lbl" style="left:9px;">SELL</div>
  <div class="oc-top" style="left:164px;width:52px;border-left:1px solid #b80000;"></div>
  <div class="oc-lbl" style="left:177.5px;letter-spacing:0px;">BUY</div>
  <!-- lot box -->
  <div style="position:absolute;left:51px;top:0;width:111px;height:22px;border:1px solid #a9adb4;background:#fff;box-sizing:border-box;"></div>
  <div style="position:absolute;left:52px;top:1px;width:20px;height:19px;background:linear-gradient(#f2f2f2,#e6e6e6 45%,#d4d4d4);border-right:1px solid #b0b4ba;"></div>
  <div style="position:absolute;left:140px;top:1px;width:20px;height:19px;background:linear-gradient(#f2f2f2,#e6e6e6 45%,#d4d4d4);border-left:1px solid #b0b4ba;"></div>
  <svg style="position:absolute;left:58px;top:9px" width="8" height="4"><path d="M0 0h7l-3.5 3.5z" fill="#4a62b8"/></svg>
  <svg style="position:absolute;left:146px;top:8px" width="8" height="4"><path d="M0 3.5h7l-3.5 -3.5z" fill="#4a62b8"/></svg>
  <div style="position:absolute;left:113px;top:3px;font-size:12.4px;color:#000;">1.00</div>
  <!-- price boxes -->
  <div class="oc-bot" style="left:0;width:106px;"></div>
  <div class="oc-bot" style="left:108px;width:108px;"></div>
  <div style="position:absolute;left:1px;top:23px;width:44px;height:1px;background:#8a0000"></div>
  <div style="position:absolute;left:1px;top:24px;width:44px;height:1px;background:#ff7474"></div>
  <div style="position:absolute;left:168px;top:23px;width:44px;height:1px;background:#8a0000"></div>
  <div style="position:absolute;left:168px;top:24px;width:44px;height:1px;background:#ff7474"></div>
  <div class="big" style="left:19.8px;top:40.3px;font-size:13.4px;font-weight:bold;">114</div>
  <div class="big" style="left:44.5px;top:20.3px;font-size:35px;letter-spacing:-2.2px;">28</div>
  <div class="big" style="left:84px;top:25px;font-size:12px;font-weight:bold;">3</div>
  <div class="big" style="left:129.8px;top:40.3px;font-size:13.4px;font-weight:bold;">114</div>
  <div class="big" style="left:155.6px;top:20.3px;font-size:35px;letter-spacing:-2.2px;">30</div>
  <div class="big" style="left:195px;top:25px;font-size:12px;font-weight:bold;">1</div>
</div>
</body></html>
